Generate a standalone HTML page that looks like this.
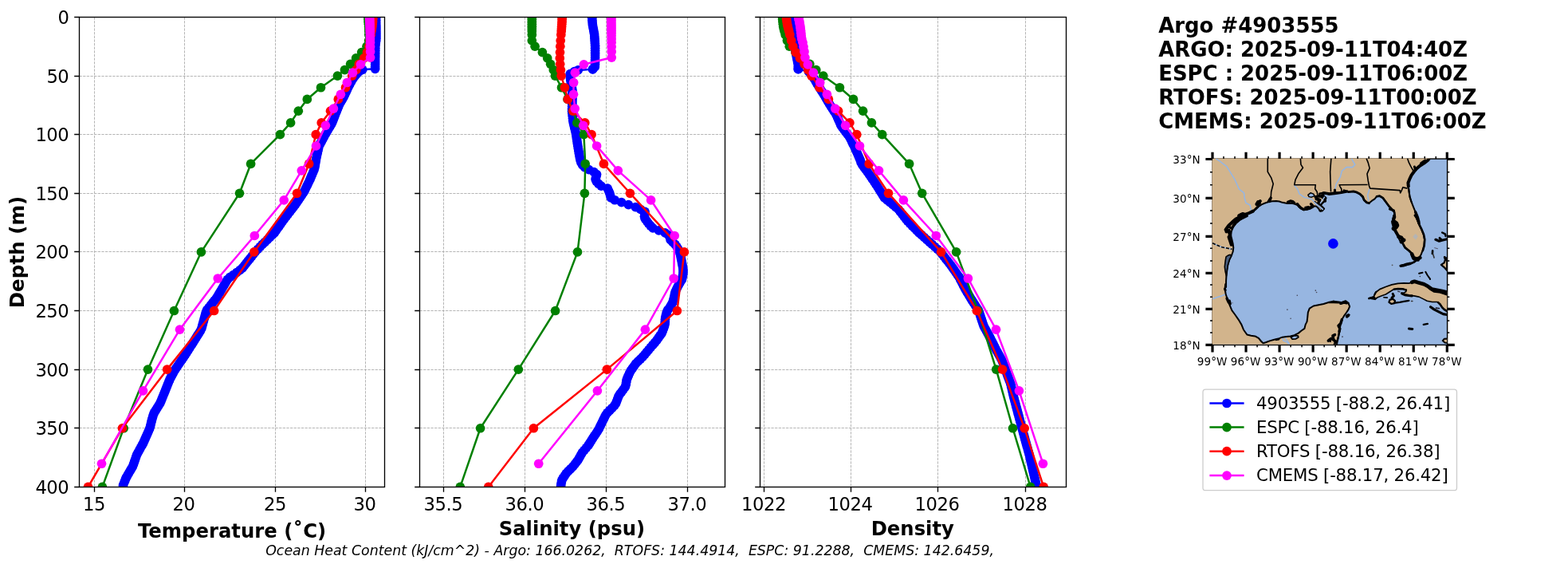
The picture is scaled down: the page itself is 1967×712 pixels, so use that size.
<!DOCTYPE html>
<html><head><meta charset="utf-8"><title>Argo #4903555</title>
<style>html,body{margin:0;padding:0;background:#fff;overflow:hidden}svg{display:block}</style>
</head><body>
<svg width="1967" height="712" viewBox="0 0 1967 712" font-family='"DejaVu Sans","Liberation Sans",sans-serif'>
<rect width="1967" height="712" fill="#fff"/>
<defs>
<clipPath id="c0"><rect x="99.5" y="21.5" width="383" height="589"/></clipPath>
<clipPath id="c1"><rect x="526.5" y="21.5" width="383" height="589"/></clipPath>
<clipPath id="c2"><rect x="953.5" y="21.5" width="384" height="589"/></clipPath>
<clipPath id="cm"><rect x="1520.4" y="198.6" width="294.9" height="233.25"/></clipPath>
</defs>
<g id="panel0">
<path d="M118.5 21.5 V610.5 M231.5 21.5 V610.5 M345.5 21.5 V610.5 M458.5 21.5 V610.5 M99.5 95.5 H482.5 M99.5 168.5 H482.5 M99.5 242.5 H482.5 M99.5 315.5 H482.5 M99.5 389.5 H482.5 M99.5 463.5 H482.5 M99.5 536.5 H482.5" stroke="#b2b2b2" stroke-width="0.95" stroke-dasharray="3.3 1.34" fill="none"/>
<g clip-path="url(#c0)">
<path d="M471.6 21.4 L471.9 35 L471.9 50 L470.8 57 L470.7 70 L470.6 86.3 L454.8 87.3 L449.8 90 L446.3 94 L443.2 98 L439.7 104 L436.2 110.8 L431.5 121 L425.5 131.3 L421.4 141.5 L416.5 154.3 L408 168.6 L400.2 183 L397 197.3 L394.5 211.6 L388.5 225.9 L381.5 240.3 L370.5 256.5 L354 278 L344 292.3 L329 306.6 L320.4 315.5 L303.3 337 L286 349.3 L272 373 L259 389.3 L256.4 398.7 L252.5 413 L241.8 430 L233.2 443.6 L219.6 463.4 L213.2 475 L207.4 489.5 L201 505.2 L193 518 L190.3 527 L188.1 536.5 L179.5 555.8 L171.6 570.1 L166.6 584.5 L158.2 598.8 L153.6 610.5" stroke="#0000ff" stroke-width="2.5" fill="none" stroke-linejoin="round"/>
<g fill="#0000ff"><circle cx="471.62" cy="22.2" r="5.85"/><circle cx="471.68" cy="25.13" r="5.85"/><circle cx="471.75" cy="28.06" r="5.85"/><circle cx="471.81" cy="30.99" r="5.85"/><circle cx="471.88" cy="33.92" r="5.85"/><circle cx="471.9" cy="36.85" r="5.85"/><circle cx="471.9" cy="39.78" r="5.85"/><circle cx="471.9" cy="42.71" r="5.85"/><circle cx="471.9" cy="45.64" r="5.85"/><circle cx="471.9" cy="48.57" r="5.85"/><circle cx="471.66" cy="51.5" r="5.85"/><circle cx="471.2" cy="54.43" r="5.85"/><circle cx="470.8" cy="57.36" r="5.85"/><circle cx="470.77" cy="60.29" r="5.85"/><circle cx="470.75" cy="63.22" r="5.85"/><circle cx="470.73" cy="66.15" r="5.85"/><circle cx="470.71" cy="69.08" r="5.85"/><circle cx="470.69" cy="72.01" r="5.85"/><circle cx="470.67" cy="74.94" r="5.85"/><circle cx="470.65" cy="77.88" r="5.85"/><circle cx="470.63" cy="80.81" r="5.85"/><circle cx="470.62" cy="83.74" r="5.85"/><circle cx="450.55" cy="89.6" r="5.85"/><circle cx="447.59" cy="92.53" r="5.85"/><circle cx="445.17" cy="95.46" r="5.85"/><circle cx="442.97" cy="98.39" r="5.85"/><circle cx="441.26" cy="101.32" r="5.85"/><circle cx="439.57" cy="104.25" r="5.85"/><circle cx="438.06" cy="107.18" r="5.85"/><circle cx="436.56" cy="110.11" r="5.85"/><circle cx="435.17" cy="113.04" r="5.85"/><circle cx="433.82" cy="115.97" r="5.85"/><circle cx="432.47" cy="118.9" r="5.85"/><circle cx="431.02" cy="121.83" r="5.85"/><circle cx="429.31" cy="124.76" r="5.85"/><circle cx="427.6" cy="127.69" r="5.85"/><circle cx="425.9" cy="130.62" r="5.85"/><circle cx="424.6" cy="133.55" r="5.85"/><circle cx="423.42" cy="136.48" r="5.85"/><circle cx="422.24" cy="139.41" r="5.85"/><circle cx="421.08" cy="142.34" r="5.85"/><circle cx="419.96" cy="145.27" r="5.85"/><circle cx="418.83" cy="148.2" r="5.85"/><circle cx="417.71" cy="151.13" r="5.85"/><circle cx="416.59" cy="154.06" r="5.85"/><circle cx="414.9" cy="156.99" r="5.85"/><circle cx="413.16" cy="159.92" r="5.85"/><circle cx="411.42" cy="162.85" r="5.85"/><circle cx="409.67" cy="165.78" r="5.85"/><circle cx="407.94" cy="168.71" r="5.85"/><circle cx="406.35" cy="171.64" r="5.85"/><circle cx="404.76" cy="174.57" r="5.85"/><circle cx="403.18" cy="177.5" r="5.85"/><circle cx="401.59" cy="180.43" r="5.85"/><circle cx="400.12" cy="183.37" r="5.85"/><circle cx="399.46" cy="186.3" r="5.85"/><circle cx="398.81" cy="189.23" r="5.85"/><circle cx="398.15" cy="192.16" r="5.85"/><circle cx="397.5" cy="195.09" r="5.85"/><circle cx="396.87" cy="198.02" r="5.85"/><circle cx="396.36" cy="200.95" r="5.85"/><circle cx="395.85" cy="203.88" r="5.85"/><circle cx="395.34" cy="206.81" r="5.85"/><circle cx="394.83" cy="209.74" r="5.85"/><circle cx="394.05" cy="212.67" r="5.85"/><circle cx="392.82" cy="215.6" r="5.85"/><circle cx="391.59" cy="218.53" r="5.85"/><circle cx="390.36" cy="221.46" r="5.85"/><circle cx="389.13" cy="224.39" r="5.85"/><circle cx="387.81" cy="227.32" r="5.85"/><circle cx="386.39" cy="230.25" r="5.85"/><circle cx="384.96" cy="233.18" r="5.85"/><circle cx="383.54" cy="236.11" r="5.85"/><circle cx="382.11" cy="239.04" r="5.85"/><circle cx="380.37" cy="241.97" r="5.85"/><circle cx="378.38" cy="244.9" r="5.85"/><circle cx="376.39" cy="247.83" r="5.85"/><circle cx="374.4" cy="250.76" r="5.85"/><circle cx="372.41" cy="253.69" r="5.85"/><circle cx="370.41" cy="256.62" r="5.85"/><circle cx="368.16" cy="259.55" r="5.85"/><circle cx="365.91" cy="262.48" r="5.85"/><circle cx="363.66" cy="265.41" r="5.85"/><circle cx="361.41" cy="268.34" r="5.85"/><circle cx="359.16" cy="271.27" r="5.85"/><circle cx="356.91" cy="274.2" r="5.85"/><circle cx="354.66" cy="277.13" r="5.85"/><circle cx="352.56" cy="280.06" r="5.85"/><circle cx="350.51" cy="282.99" r="5.85"/><circle cx="348.46" cy="285.92" r="5.85"/><circle cx="346.41" cy="288.86" r="5.85"/><circle cx="344.36" cy="291.79" r="5.85"/><circle cx="341.47" cy="294.72" r="5.85"/><circle cx="338.39" cy="297.65" r="5.85"/><circle cx="335.32" cy="300.58" r="5.85"/><circle cx="332.25" cy="303.51" r="5.85"/><circle cx="329.17" cy="306.44" r="5.85"/><circle cx="326.33" cy="309.37" r="5.85"/><circle cx="323.49" cy="312.3" r="5.85"/><circle cx="320.66" cy="315.23" r="5.85"/><circle cx="318.29" cy="318.16" r="5.85"/><circle cx="315.96" cy="321.09" r="5.85"/><circle cx="313.62" cy="324.02" r="5.85"/><circle cx="311.29" cy="326.95" r="5.85"/><circle cx="308.96" cy="329.88" r="5.85"/><circle cx="306.63" cy="332.81" r="5.85"/><circle cx="304.3" cy="335.74" r="5.85"/><circle cx="300.95" cy="338.67" r="5.85"/><circle cx="296.83" cy="341.6" r="5.85"/><circle cx="292.71" cy="344.53" r="5.85"/><circle cx="288.59" cy="347.46" r="5.85"/><circle cx="285.36" cy="350.39" r="5.85"/><circle cx="283.62" cy="353.32" r="5.85"/><circle cx="281.89" cy="356.25" r="5.85"/><circle cx="280.16" cy="359.18" r="5.85"/><circle cx="278.43" cy="362.11" r="5.85"/><circle cx="276.7" cy="365.04" r="5.85"/><circle cx="274.97" cy="367.97" r="5.85"/><circle cx="273.24" cy="370.9" r="5.85"/><circle cx="271.34" cy="373.83" r="5.85"/><circle cx="269" cy="376.76" r="5.85"/><circle cx="266.66" cy="379.69" r="5.85"/><circle cx="264.32" cy="382.62" r="5.85"/><circle cx="261.99" cy="385.55" r="5.85"/><circle cx="259.65" cy="388.48" r="5.85"/><circle cx="258.42" cy="391.41" r="5.85"/><circle cx="257.6" cy="394.34" r="5.85"/><circle cx="256.79" cy="397.28" r="5.85"/><circle cx="255.99" cy="400.21" r="5.85"/><circle cx="255.19" cy="403.14" r="5.85"/><circle cx="254.39" cy="406.07" r="5.85"/><circle cx="253.59" cy="409" r="5.85"/><circle cx="252.79" cy="411.93" r="5.85"/><circle cx="251.33" cy="414.86" r="5.85"/><circle cx="249.49" cy="417.79" r="5.85"/><circle cx="247.64" cy="420.72" r="5.85"/><circle cx="245.8" cy="423.65" r="5.85"/><circle cx="243.95" cy="426.58" r="5.85"/><circle cx="242.11" cy="429.51" r="5.85"/><circle cx="240.26" cy="432.44" r="5.85"/><circle cx="238.41" cy="435.37" r="5.85"/><circle cx="236.55" cy="438.3" r="5.85"/><circle cx="234.7" cy="441.23" r="5.85"/><circle cx="232.82" cy="444.16" r="5.85"/><circle cx="230.8" cy="447.09" r="5.85"/><circle cx="228.79" cy="450.02" r="5.85"/><circle cx="226.78" cy="452.95" r="5.85"/><circle cx="224.76" cy="455.88" r="5.85"/><circle cx="222.75" cy="458.81" r="5.85"/><circle cx="220.74" cy="461.74" r="5.85"/><circle cx="218.9" cy="464.67" r="5.85"/><circle cx="217.28" cy="467.6" r="5.85"/><circle cx="215.67" cy="470.53" r="5.85"/><circle cx="214.05" cy="473.46" r="5.85"/><circle cx="212.64" cy="476.39" r="5.85"/><circle cx="211.47" cy="479.32" r="5.85"/><circle cx="210.3" cy="482.25" r="5.85"/><circle cx="209.13" cy="485.18" r="5.85"/><circle cx="207.95" cy="488.11" r="5.85"/><circle cx="206.77" cy="491.04" r="5.85"/><circle cx="205.58" cy="493.97" r="5.85"/><circle cx="204.38" cy="496.9" r="5.85"/><circle cx="203.19" cy="499.83" r="5.85"/><circle cx="201.99" cy="502.77" r="5.85"/><circle cx="200.69" cy="505.7" r="5.85"/><circle cx="198.86" cy="508.63" r="5.85"/><circle cx="197.03" cy="511.56" r="5.85"/><circle cx="195.2" cy="514.49" r="5.85"/><circle cx="193.36" cy="517.42" r="5.85"/><circle cx="192.3" cy="520.35" r="5.85"/><circle cx="191.42" cy="523.28" r="5.85"/><circle cx="190.54" cy="526.21" r="5.85"/><circle cx="189.8" cy="529.14" r="5.85"/><circle cx="189.13" cy="532.07" r="5.85"/><circle cx="188.45" cy="535" r="5.85"/><circle cx="187.46" cy="537.93" r="5.85"/><circle cx="186.16" cy="540.86" r="5.85"/><circle cx="184.85" cy="543.79" r="5.85"/><circle cx="183.55" cy="546.72" r="5.85"/><circle cx="182.24" cy="549.65" r="5.85"/><circle cx="180.93" cy="552.58" r="5.85"/><circle cx="179.63" cy="555.51" r="5.85"/><circle cx="178.04" cy="558.44" r="5.85"/><circle cx="176.42" cy="561.37" r="5.85"/><circle cx="174.8" cy="564.3" r="5.85"/><circle cx="173.18" cy="567.23" r="5.85"/><circle cx="171.58" cy="570.16" r="5.85"/><circle cx="170.56" cy="573.09" r="5.85"/><circle cx="169.54" cy="576.02" r="5.85"/><circle cx="168.53" cy="578.95" r="5.85"/><circle cx="167.51" cy="581.88" r="5.85"/><circle cx="166.42" cy="584.81" r="5.85"/><circle cx="164.69" cy="587.74" r="5.85"/><circle cx="162.97" cy="590.67" r="5.85"/><circle cx="161.25" cy="593.6" r="5.85"/><circle cx="159.53" cy="596.53" r="5.85"/><circle cx="157.94" cy="599.46" r="5.85"/><circle cx="156.79" cy="602.39" r="5.85"/><circle cx="155.63" cy="605.32" r="5.85"/><circle cx="154.48" cy="608.26" r="5.85"/><circle cx="470.6" cy="86.3" r="5.85"/><circle cx="454.8" cy="87.3" r="5.85"/></g>
<g fill="#008000" stroke="none">
<path d="M462 21.4 L462 24.34 L462.1 27.29 L462.4 30.23 L462.7 33.18 L462.8 36.12 L462.8 39.07 L462.8 43.49 L462.6 50.85 L460 58.21 L453.6 65.57 L446.6 72.94 L439.6 80.3 L432.4 87.66 L423.4 95.03 L402.5 109.75 L385.3 124.47 L374.3 139.2 L364.6 153.93 L351.4 168.65 L314.6 205.46 L300.5 242.28 L252.4 315.9 L218.4 389.52 L185.5 463.15 L155.2 536.77 L128.4 610.4" stroke="#008000" stroke-width="2.5" fill="none" stroke-linejoin="round"/>
<circle cx="462" cy="21.4" r="5.85"/>
<circle cx="462" cy="24.34" r="5.85"/>
<circle cx="462.1" cy="27.29" r="5.85"/>
<circle cx="462.4" cy="30.23" r="5.85"/>
<circle cx="462.7" cy="33.18" r="5.85"/>
<circle cx="462.8" cy="36.12" r="5.85"/>
<circle cx="462.8" cy="39.07" r="5.85"/>
<circle cx="462.8" cy="43.49" r="5.85"/>
<circle cx="462.6" cy="50.85" r="5.85"/>
<circle cx="460" cy="58.21" r="5.85"/>
<circle cx="453.6" cy="65.57" r="5.85"/>
<circle cx="446.6" cy="72.94" r="5.85"/>
<circle cx="439.6" cy="80.3" r="5.85"/>
<circle cx="432.4" cy="87.66" r="5.85"/>
<circle cx="423.4" cy="95.03" r="5.85"/>
<circle cx="402.5" cy="109.75" r="5.85"/>
<circle cx="385.3" cy="124.47" r="5.85"/>
<circle cx="374.3" cy="139.2" r="5.85"/>
<circle cx="364.6" cy="153.93" r="5.85"/>
<circle cx="351.4" cy="168.65" r="5.85"/>
<circle cx="314.6" cy="205.46" r="5.85"/>
<circle cx="300.5" cy="242.28" r="5.85"/>
<circle cx="252.4" cy="315.9" r="5.85"/>
<circle cx="218.4" cy="389.52" r="5.85"/>
<circle cx="185.5" cy="463.15" r="5.85"/>
<circle cx="155.2" cy="536.77" r="5.85"/>
<circle cx="128.4" cy="610.4" r="5.85"/>
</g>
<g fill="#ff0000" stroke="none">
<path d="M467.8 21.4 L467.7 24.34 L467.5 27.29 L467.2 30.23 L466.9 33.18 L466.5 36.12 L466 39.07 L465.3 43.49 L464.3 50.85 L463 58.21 L460.5 65.57 L456.6 72.94 L450.3 80.3 L446.8 87.66 L441.7 95.03 L433.5 109.75 L424.3 124.47 L414.5 139.2 L403.2 153.93 L396.2 168.65 L387.6 205.46 L372.5 242.28 L318.7 315.9 L268.6 389.52 L209.6 463.15 L153.4 536.77 L110.5 610.4" stroke="#ff0000" stroke-width="2.5" fill="none" stroke-linejoin="round"/>
<circle cx="467.8" cy="21.4" r="5.85"/>
<circle cx="467.7" cy="24.34" r="5.85"/>
<circle cx="467.5" cy="27.29" r="5.85"/>
<circle cx="467.2" cy="30.23" r="5.85"/>
<circle cx="466.9" cy="33.18" r="5.85"/>
<circle cx="466.5" cy="36.12" r="5.85"/>
<circle cx="466" cy="39.07" r="5.85"/>
<circle cx="465.3" cy="43.49" r="5.85"/>
<circle cx="464.3" cy="50.85" r="5.85"/>
<circle cx="463" cy="58.21" r="5.85"/>
<circle cx="460.5" cy="65.57" r="5.85"/>
<circle cx="456.6" cy="72.94" r="5.85"/>
<circle cx="450.3" cy="80.3" r="5.85"/>
<circle cx="446.8" cy="87.66" r="5.85"/>
<circle cx="441.7" cy="95.03" r="5.85"/>
<circle cx="433.5" cy="109.75" r="5.85"/>
<circle cx="424.3" cy="124.47" r="5.85"/>
<circle cx="414.5" cy="139.2" r="5.85"/>
<circle cx="403.2" cy="153.93" r="5.85"/>
<circle cx="396.2" cy="168.65" r="5.85"/>
<circle cx="387.6" cy="205.46" r="5.85"/>
<circle cx="372.5" cy="242.28" r="5.85"/>
<circle cx="318.7" cy="315.9" r="5.85"/>
<circle cx="268.6" cy="389.52" r="5.85"/>
<circle cx="209.6" cy="463.15" r="5.85"/>
<circle cx="153.4" cy="536.77" r="5.85"/>
<circle cx="110.5" cy="610.4" r="5.85"/>
</g>
<g fill="#ff00ff" stroke="none">
<path d="M463.6 22.12 L463.67 23.67 L463.74 25.3 L463.81 27.02 L463.89 28.88 L463.96 30.88 L464.03 33.08 L464.1 35.49 L464.17 38.19 L464.24 41.23 L464.31 44.68 L464.39 48.64 L464.46 53.21 L464.53 58.52 L464.6 64.75 L464.6 72.1 L452.4 80.8 L442.5 91.15 L435.4 103.51 L427.4 118.31 L418.4 136.03 L408.4 157.34 L396.5 182.98 L378.3 213.81 L356.2 250.89 L319.3 295.48 L273.3 349 L225.5 413.14 L179.5 489.85 L127.5 581.26" stroke="#ff00ff" stroke-width="2.5" fill="none" stroke-linejoin="round"/>
<circle cx="463.6" cy="22.12" r="5.85"/>
<circle cx="463.67" cy="23.67" r="5.85"/>
<circle cx="463.74" cy="25.3" r="5.85"/>
<circle cx="463.81" cy="27.02" r="5.85"/>
<circle cx="463.89" cy="28.88" r="5.85"/>
<circle cx="463.96" cy="30.88" r="5.85"/>
<circle cx="464.03" cy="33.08" r="5.85"/>
<circle cx="464.1" cy="35.49" r="5.85"/>
<circle cx="464.17" cy="38.19" r="5.85"/>
<circle cx="464.24" cy="41.23" r="5.85"/>
<circle cx="464.31" cy="44.68" r="5.85"/>
<circle cx="464.39" cy="48.64" r="5.85"/>
<circle cx="464.46" cy="53.21" r="5.85"/>
<circle cx="464.53" cy="58.52" r="5.85"/>
<circle cx="464.6" cy="64.75" r="5.85"/>
<circle cx="464.6" cy="72.1" r="5.85"/>
<circle cx="452.4" cy="80.8" r="5.85"/>
<circle cx="442.5" cy="91.15" r="5.85"/>
<circle cx="435.4" cy="103.51" r="5.85"/>
<circle cx="427.4" cy="118.31" r="5.85"/>
<circle cx="418.4" cy="136.03" r="5.85"/>
<circle cx="408.4" cy="157.34" r="5.85"/>
<circle cx="396.5" cy="182.98" r="5.85"/>
<circle cx="378.3" cy="213.81" r="5.85"/>
<circle cx="356.2" cy="250.89" r="5.85"/>
<circle cx="319.3" cy="295.48" r="5.85"/>
<circle cx="273.3" cy="349" r="5.85"/>
<circle cx="225.5" cy="413.14" r="5.85"/>
<circle cx="179.5" cy="489.85" r="5.85"/>
<circle cx="127.5" cy="581.26" r="5.85"/>
</g>
</g>
<rect x="99.5" y="21.5" width="383" height="589" fill="none" stroke="#000" stroke-width="1.33"/>
<path d="M118.5 610.5 v6.3 M231.5 610.5 v6.3 M345.5 610.5 v6.3 M458.5 610.5 v6.3 M99.5 21.5 h-6.3 M99.5 95.5 h-6.3 M99.5 168.5 h-6.3 M99.5 242.5 h-6.3 M99.5 315.5 h-6.3 M99.5 389.5 h-6.3 M99.5 463.5 h-6.3 M99.5 536.5 h-6.3 M99.5 610.5 h-6.3" stroke="#000" stroke-width="1.33" fill="none"/>
<text x="104.1" y="640" style="font-size:22.7px;letter-spacing:-0.5px" xml:space="preserve">15</text>
<text x="216.6" y="640" style="font-size:22.7px;letter-spacing:-0.5px" xml:space="preserve">20</text>
<text x="331.1" y="640" style="font-size:22.7px;letter-spacing:-0.5px" xml:space="preserve">25</text>
<text x="443.6" y="640" style="font-size:22.7px;letter-spacing:-0.5px" xml:space="preserve">30</text>
<text x="72.4" y="30.2" style="font-size:22.7px;letter-spacing:-0.5px" xml:space="preserve">0</text>
<text x="58.4" y="104.2" style="font-size:22.7px;letter-spacing:-0.5px" xml:space="preserve">50</text>
<text x="44.4" y="177.2" style="font-size:22.7px;letter-spacing:-0.5px" xml:space="preserve">100</text>
<text x="44.4" y="251.2" style="font-size:22.7px;letter-spacing:-0.5px" xml:space="preserve">150</text>
<text x="44.4" y="324.2" style="font-size:22.7px;letter-spacing:-0.5px" xml:space="preserve">200</text>
<text x="44.4" y="398.2" style="font-size:22.7px;letter-spacing:-0.5px" xml:space="preserve">250</text>
<text x="44.4" y="472.2" style="font-size:22.7px;letter-spacing:-0.5px" xml:space="preserve">300</text>
<text x="44.4" y="545.2" style="font-size:22.7px;letter-spacing:-0.5px" xml:space="preserve">350</text>
<text x="44.4" y="619.2" style="font-size:22.7px;letter-spacing:-0.5px" xml:space="preserve">400</text>
</g>
<g id="panel1">
<path d="M556.5 21.5 V610.5 M658.5 21.5 V610.5 M760.5 21.5 V610.5 M862.5 21.5 V610.5 M526.5 95.5 H909.5 M526.5 168.5 H909.5 M526.5 242.5 H909.5 M526.5 315.5 H909.5 M526.5 389.5 H909.5 M526.5 463.5 H909.5 M526.5 536.5 H909.5" stroke="#b2b2b2" stroke-width="0.95" stroke-dasharray="3.3 1.34" fill="none"/>
<g clip-path="url(#c1)">
<path d="M742.7 21.4 L743.2 30 L745.6 43 L746.6 57.3 L746.6 70 L746.5 83.5 L743.5 86.8 L725.2 87.9 L715.2 91.5 L715.2 96 L716 102 L718 113 L718 124.3 L717.5 138.6 L719 153 L722.5 167.3 L724.6 181.6 L727 196 L728.5 203 L731.7 208.6 L740.3 213.6 L748.9 217.2 L746.7 225.8 L753.1 232.9 L761.7 235.1 L764.6 241.5 L766.8 249.4 L776.1 252.3 L783.2 255.1 L795.4 258.7 L801.8 261.6 L809 265.2 L808.3 273 L814.7 281.6 L820.5 287.4 L831.9 290.2 L840.5 296 L840.5 300 L847.7 307.2 L852.7 315.5 L854.8 325.8 L857 337.3 L857 343 L855.5 350.2 L850.5 358.7 L847 365.9 L845.5 373.1 L844.1 378.8 L839.8 386 L836.9 389.5 L834.5 398.6 L834.1 407.2 L830.5 417.2 L823.3 427.3 L814.7 437.3 L807.6 445.9 L797.5 455.9 L790.4 465.9 L786.1 476 L784.9 484.3 L776.3 495.8 L772 507.2 L760.6 518.7 L754.9 530.2 L750.8 538.7 L744 548.8 L737.7 558.8 L730.5 567.2 L724.8 577.2 L719.1 584.4 L710.5 593 L704.8 601.6 L703.3 610.5" stroke="#0000ff" stroke-width="2.5" fill="none" stroke-linejoin="round"/>
<g fill="#0000ff"><circle cx="742.75" cy="22.2" r="5.85"/><circle cx="742.92" cy="25.13" r="5.85"/><circle cx="743.09" cy="28.06" r="5.85"/><circle cx="743.38" cy="30.99" r="5.85"/><circle cx="743.92" cy="33.92" r="5.85"/><circle cx="744.46" cy="36.85" r="5.85"/><circle cx="745.01" cy="39.78" r="5.85"/><circle cx="745.55" cy="42.71" r="5.85"/><circle cx="745.78" cy="45.64" r="5.85"/><circle cx="745.99" cy="48.57" r="5.85"/><circle cx="746.19" cy="51.5" r="5.85"/><circle cx="746.4" cy="54.43" r="5.85"/><circle cx="746.6" cy="57.36" r="5.85"/><circle cx="746.6" cy="60.29" r="5.85"/><circle cx="746.6" cy="63.22" r="5.85"/><circle cx="746.6" cy="66.15" r="5.85"/><circle cx="746.6" cy="69.08" r="5.85"/><circle cx="746.59" cy="72.01" r="5.85"/><circle cx="746.56" cy="74.94" r="5.85"/><circle cx="746.54" cy="77.88" r="5.85"/><circle cx="746.52" cy="80.81" r="5.85"/><circle cx="746.29" cy="83.74" r="5.85"/><circle cx="743.62" cy="86.67" r="5.85"/><circle cx="720.49" cy="89.6" r="5.85"/><circle cx="715.2" cy="92.53" r="5.85"/><circle cx="715.2" cy="95.46" r="5.85"/><circle cx="715.52" cy="98.39" r="5.85"/><circle cx="715.91" cy="101.32" r="5.85"/><circle cx="716.41" cy="104.25" r="5.85"/><circle cx="716.94" cy="107.18" r="5.85"/><circle cx="717.47" cy="110.11" r="5.85"/><circle cx="718" cy="113.04" r="5.85"/><circle cx="718" cy="115.97" r="5.85"/><circle cx="718" cy="118.9" r="5.85"/><circle cx="718" cy="121.83" r="5.85"/><circle cx="717.98" cy="124.76" r="5.85"/><circle cx="717.88" cy="127.69" r="5.85"/><circle cx="717.78" cy="130.62" r="5.85"/><circle cx="717.68" cy="133.55" r="5.85"/><circle cx="717.57" cy="136.48" r="5.85"/><circle cx="717.58" cy="139.41" r="5.85"/><circle cx="717.89" cy="142.34" r="5.85"/><circle cx="718.19" cy="145.27" r="5.85"/><circle cx="718.5" cy="148.2" r="5.85"/><circle cx="718.81" cy="151.13" r="5.85"/><circle cx="719.26" cy="154.06" r="5.85"/><circle cx="719.98" cy="156.99" r="5.85"/><circle cx="720.69" cy="159.92" r="5.85"/><circle cx="721.41" cy="162.85" r="5.85"/><circle cx="722.13" cy="165.78" r="5.85"/><circle cx="722.71" cy="168.71" r="5.85"/><circle cx="723.14" cy="171.64" r="5.85"/><circle cx="723.57" cy="174.57" r="5.85"/><circle cx="724" cy="177.5" r="5.85"/><circle cx="724.43" cy="180.43" r="5.85"/><circle cx="724.89" cy="183.37" r="5.85"/><circle cx="725.38" cy="186.3" r="5.85"/><circle cx="725.87" cy="189.23" r="5.85"/><circle cx="726.36" cy="192.16" r="5.85"/><circle cx="726.85" cy="195.09" r="5.85"/><circle cx="727.43" cy="198.02" r="5.85"/><circle cx="728.06" cy="200.95" r="5.85"/><circle cx="729" cy="203.88" r="5.85"/><circle cx="730.68" cy="206.81" r="5.85"/><circle cx="733.66" cy="209.74" r="5.85"/><circle cx="738.7" cy="212.67" r="5.85"/><circle cx="745.07" cy="215.6" r="5.85"/><circle cx="748.56" cy="218.53" r="5.85"/><circle cx="747.81" cy="221.46" r="5.85"/><circle cx="747.06" cy="224.39" r="5.85"/><circle cx="748.07" cy="227.32" r="5.85"/><circle cx="750.71" cy="230.25" r="5.85"/><circle cx="754.19" cy="233.18" r="5.85"/><circle cx="762.16" cy="236.11" r="5.85"/><circle cx="763.49" cy="239.04" r="5.85"/><circle cx="764.73" cy="241.97" r="5.85"/><circle cx="765.55" cy="244.9" r="5.85"/><circle cx="766.36" cy="247.83" r="5.85"/><circle cx="771.17" cy="250.76" r="5.85"/><circle cx="779.63" cy="253.69" r="5.85"/><circle cx="788.36" cy="256.62" r="5.85"/><circle cx="797.28" cy="259.55" r="5.85"/><circle cx="803.57" cy="262.48" r="5.85"/><circle cx="808.98" cy="265.41" r="5.85"/><circle cx="808.72" cy="268.34" r="5.85"/><circle cx="808.45" cy="271.27" r="5.85"/><circle cx="809.2" cy="274.2" r="5.85"/><circle cx="811.38" cy="277.13" r="5.85"/><circle cx="813.56" cy="280.06" r="5.85"/><circle cx="816.09" cy="282.99" r="5.85"/><circle cx="819.02" cy="285.92" r="5.85"/><circle cx="826.42" cy="288.86" r="5.85"/><circle cx="834.25" cy="291.79" r="5.85"/><circle cx="838.6" cy="294.72" r="5.85"/><circle cx="840.5" cy="297.65" r="5.85"/><circle cx="841.08" cy="300.58" r="5.85"/><circle cx="844.01" cy="303.51" r="5.85"/><circle cx="846.94" cy="306.44" r="5.85"/><circle cx="849.01" cy="309.37" r="5.85"/><circle cx="850.77" cy="312.3" r="5.85"/><circle cx="852.54" cy="315.23" r="5.85"/><circle cx="853.24" cy="318.16" r="5.85"/><circle cx="853.84" cy="321.09" r="5.85"/><circle cx="854.44" cy="324.02" r="5.85"/><circle cx="855.02" cy="326.95" r="5.85"/><circle cx="855.58" cy="329.88" r="5.85"/><circle cx="856.14" cy="332.81" r="5.85"/><circle cx="856.7" cy="335.74" r="5.85"/><circle cx="857" cy="338.67" r="5.85"/><circle cx="857" cy="341.6" r="5.85"/><circle cx="856.68" cy="344.53" r="5.85"/><circle cx="856.07" cy="347.46" r="5.85"/><circle cx="855.39" cy="350.39" r="5.85"/><circle cx="853.66" cy="353.32" r="5.85"/><circle cx="851.94" cy="356.25" r="5.85"/><circle cx="850.27" cy="359.18" r="5.85"/><circle cx="848.84" cy="362.11" r="5.85"/><circle cx="847.42" cy="365.04" r="5.85"/><circle cx="846.57" cy="367.97" r="5.85"/><circle cx="845.96" cy="370.9" r="5.85"/><circle cx="845.32" cy="373.83" r="5.85"/><circle cx="844.6" cy="376.76" r="5.85"/><circle cx="843.57" cy="379.69" r="5.85"/><circle cx="841.82" cy="382.62" r="5.85"/><circle cx="840.07" cy="385.55" r="5.85"/><circle cx="837.74" cy="388.48" r="5.85"/><circle cx="836.4" cy="391.41" r="5.85"/><circle cx="835.62" cy="394.34" r="5.85"/><circle cx="834.85" cy="397.28" r="5.85"/><circle cx="834.43" cy="400.21" r="5.85"/><circle cx="834.29" cy="403.14" r="5.85"/><circle cx="834.15" cy="406.07" r="5.85"/><circle cx="833.45" cy="409" r="5.85"/><circle cx="832.4" cy="411.93" r="5.85"/><circle cx="831.34" cy="414.86" r="5.85"/><circle cx="830.08" cy="417.79" r="5.85"/><circle cx="827.99" cy="420.72" r="5.85"/><circle cx="825.9" cy="423.65" r="5.85"/><circle cx="823.81" cy="426.58" r="5.85"/><circle cx="821.4" cy="429.51" r="5.85"/><circle cx="818.88" cy="432.44" r="5.85"/><circle cx="816.36" cy="435.37" r="5.85"/><circle cx="813.88" cy="438.3" r="5.85"/><circle cx="811.46" cy="441.23" r="5.85"/><circle cx="809.04" cy="444.16" r="5.85"/><circle cx="806.4" cy="447.09" r="5.85"/><circle cx="803.44" cy="450.02" r="5.85"/><circle cx="800.48" cy="452.95" r="5.85"/><circle cx="797.52" cy="455.88" r="5.85"/><circle cx="795.43" cy="458.81" r="5.85"/><circle cx="793.35" cy="461.74" r="5.85"/><circle cx="791.27" cy="464.67" r="5.85"/><circle cx="789.68" cy="467.6" r="5.85"/><circle cx="788.43" cy="470.53" r="5.85"/><circle cx="787.18" cy="473.46" r="5.85"/><circle cx="786.04" cy="476.39" r="5.85"/><circle cx="785.62" cy="479.32" r="5.85"/><circle cx="785.2" cy="482.25" r="5.85"/><circle cx="784.24" cy="485.18" r="5.85"/><circle cx="782.05" cy="488.11" r="5.85"/><circle cx="779.86" cy="491.04" r="5.85"/><circle cx="777.67" cy="493.97" r="5.85"/><circle cx="775.88" cy="496.9" r="5.85"/><circle cx="774.78" cy="499.83" r="5.85"/><circle cx="773.67" cy="502.77" r="5.85"/><circle cx="772.57" cy="505.7" r="5.85"/><circle cx="770.59" cy="508.63" r="5.85"/><circle cx="767.68" cy="511.56" r="5.85"/><circle cx="764.78" cy="514.49" r="5.85"/><circle cx="761.87" cy="517.42" r="5.85"/><circle cx="759.78" cy="520.35" r="5.85"/><circle cx="758.33" cy="523.28" r="5.85"/><circle cx="756.88" cy="526.21" r="5.85"/><circle cx="755.43" cy="529.14" r="5.85"/><circle cx="754" cy="532.07" r="5.85"/><circle cx="752.59" cy="535" r="5.85"/><circle cx="751.17" cy="537.93" r="5.85"/><circle cx="749.35" cy="540.86" r="5.85"/><circle cx="747.37" cy="543.79" r="5.85"/><circle cx="745.4" cy="546.72" r="5.85"/><circle cx="743.46" cy="549.65" r="5.85"/><circle cx="741.62" cy="552.58" r="5.85"/><circle cx="739.77" cy="555.51" r="5.85"/><circle cx="737.93" cy="558.44" r="5.85"/><circle cx="735.5" cy="561.37" r="5.85"/><circle cx="732.98" cy="564.3" r="5.85"/><circle cx="730.48" cy="567.23" r="5.85"/><circle cx="728.81" cy="570.16" r="5.85"/><circle cx="727.14" cy="573.09" r="5.85"/><circle cx="725.47" cy="576.02" r="5.85"/><circle cx="723.41" cy="578.95" r="5.85"/><circle cx="721.09" cy="581.88" r="5.85"/><circle cx="718.69" cy="584.81" r="5.85"/><circle cx="715.76" cy="587.74" r="5.85"/><circle cx="712.83" cy="590.67" r="5.85"/><circle cx="710.1" cy="593.6" r="5.85"/><circle cx="708.16" cy="596.53" r="5.85"/><circle cx="706.22" cy="599.46" r="5.85"/><circle cx="704.67" cy="602.39" r="5.85"/><circle cx="704.17" cy="605.32" r="5.85"/><circle cx="703.68" cy="608.26" r="5.85"/><circle cx="743.5" cy="86.8" r="5.85"/><circle cx="725.2" cy="87.9" r="5.85"/></g>
<g fill="#008000" stroke="none">
<path d="M667.3 21.4 L667.3 24.34 L667.3 27.29 L667.3 30.23 L667.3 33.18 L667.3 36.12 L667.3 39.07 L667.3 43.49 L667.3 50.85 L671.1 58.21 L680.4 65.57 L686.7 72.94 L690.6 80.3 L694.3 87.66 L696.4 95.03 L704.5 109.75 L712 124.47 L718.8 139.2 L723.8 153.93 L732.4 168.65 L734.2 205.46 L733.4 242.28 L724.5 315.9 L696.6 389.52 L650.3 463.15 L602.6 536.77 L577.3 610.4" stroke="#008000" stroke-width="2.5" fill="none" stroke-linejoin="round"/>
<circle cx="667.3" cy="21.4" r="5.85"/>
<circle cx="667.3" cy="24.34" r="5.85"/>
<circle cx="667.3" cy="27.29" r="5.85"/>
<circle cx="667.3" cy="30.23" r="5.85"/>
<circle cx="667.3" cy="33.18" r="5.85"/>
<circle cx="667.3" cy="36.12" r="5.85"/>
<circle cx="667.3" cy="39.07" r="5.85"/>
<circle cx="667.3" cy="43.49" r="5.85"/>
<circle cx="667.3" cy="50.85" r="5.85"/>
<circle cx="671.1" cy="58.21" r="5.85"/>
<circle cx="680.4" cy="65.57" r="5.85"/>
<circle cx="686.7" cy="72.94" r="5.85"/>
<circle cx="690.6" cy="80.3" r="5.85"/>
<circle cx="694.3" cy="87.66" r="5.85"/>
<circle cx="696.4" cy="95.03" r="5.85"/>
<circle cx="704.5" cy="109.75" r="5.85"/>
<circle cx="712" cy="124.47" r="5.85"/>
<circle cx="718.8" cy="139.2" r="5.85"/>
<circle cx="723.8" cy="153.93" r="5.85"/>
<circle cx="732.4" cy="168.65" r="5.85"/>
<circle cx="734.2" cy="205.46" r="5.85"/>
<circle cx="733.4" cy="242.28" r="5.85"/>
<circle cx="724.5" cy="315.9" r="5.85"/>
<circle cx="696.6" cy="389.52" r="5.85"/>
<circle cx="650.3" cy="463.15" r="5.85"/>
<circle cx="602.6" cy="536.77" r="5.85"/>
<circle cx="577.3" cy="610.4" r="5.85"/>
</g>
<g fill="#ff0000" stroke="none">
<path d="M705.2 21.4 L705.1 24.34 L705 27.29 L704.8 30.23 L704.6 33.18 L704.4 36.12 L704.2 39.07 L703.8 43.49 L703.2 50.85 L702.8 58.21 L702.5 65.57 L702.3 72.94 L702.7 80.3 L703.4 87.66 L704.1 95.03 L708.4 109.75 L712.3 124.47 L718.8 139.2 L733.8 153.93 L742.1 168.65 L757.4 205.46 L790.4 242.28 L858.4 315.9 L849.4 389.52 L761.3 463.15 L669.4 536.77 L612.7 610.4" stroke="#ff0000" stroke-width="2.5" fill="none" stroke-linejoin="round"/>
<circle cx="705.2" cy="21.4" r="5.85"/>
<circle cx="705.1" cy="24.34" r="5.85"/>
<circle cx="705" cy="27.29" r="5.85"/>
<circle cx="704.8" cy="30.23" r="5.85"/>
<circle cx="704.6" cy="33.18" r="5.85"/>
<circle cx="704.4" cy="36.12" r="5.85"/>
<circle cx="704.2" cy="39.07" r="5.85"/>
<circle cx="703.8" cy="43.49" r="5.85"/>
<circle cx="703.2" cy="50.85" r="5.85"/>
<circle cx="702.8" cy="58.21" r="5.85"/>
<circle cx="702.5" cy="65.57" r="5.85"/>
<circle cx="702.3" cy="72.94" r="5.85"/>
<circle cx="702.7" cy="80.3" r="5.85"/>
<circle cx="703.4" cy="87.66" r="5.85"/>
<circle cx="704.1" cy="95.03" r="5.85"/>
<circle cx="708.4" cy="109.75" r="5.85"/>
<circle cx="712.3" cy="124.47" r="5.85"/>
<circle cx="718.8" cy="139.2" r="5.85"/>
<circle cx="733.8" cy="153.93" r="5.85"/>
<circle cx="742.1" cy="168.65" r="5.85"/>
<circle cx="757.4" cy="205.46" r="5.85"/>
<circle cx="790.4" cy="242.28" r="5.85"/>
<circle cx="858.4" cy="315.9" r="5.85"/>
<circle cx="849.4" cy="389.52" r="5.85"/>
<circle cx="761.3" cy="463.15" r="5.85"/>
<circle cx="669.4" cy="536.77" r="5.85"/>
<circle cx="612.7" cy="610.4" r="5.85"/>
</g>
<g fill="#ff00ff" stroke="none">
<path d="M766.7 22.12 L766.73 23.67 L766.77 25.3 L766.8 27.02 L766.83 28.88 L766.87 30.88 L766.9 33.08 L766.93 35.49 L766.97 38.19 L767 41.23 L767.03 44.68 L767.07 48.64 L767.1 53.21 L767.13 58.52 L767.17 64.75 L767.2 72.1 L732.4 80.8 L721.4 91.15 L719.6 103.51 L719.5 118.31 L721.2 136.03 L731.7 157.34 L748.6 182.98 L775.3 213.81 L816.6 250.89 L846.2 295.48 L845.2 349 L809.4 413.14 L749.4 489.85 L675.7 581.26" stroke="#ff00ff" stroke-width="2.5" fill="none" stroke-linejoin="round"/>
<circle cx="766.7" cy="22.12" r="5.85"/>
<circle cx="766.73" cy="23.67" r="5.85"/>
<circle cx="766.77" cy="25.3" r="5.85"/>
<circle cx="766.8" cy="27.02" r="5.85"/>
<circle cx="766.83" cy="28.88" r="5.85"/>
<circle cx="766.87" cy="30.88" r="5.85"/>
<circle cx="766.9" cy="33.08" r="5.85"/>
<circle cx="766.93" cy="35.49" r="5.85"/>
<circle cx="766.97" cy="38.19" r="5.85"/>
<circle cx="767" cy="41.23" r="5.85"/>
<circle cx="767.03" cy="44.68" r="5.85"/>
<circle cx="767.07" cy="48.64" r="5.85"/>
<circle cx="767.1" cy="53.21" r="5.85"/>
<circle cx="767.13" cy="58.52" r="5.85"/>
<circle cx="767.17" cy="64.75" r="5.85"/>
<circle cx="767.2" cy="72.1" r="5.85"/>
<circle cx="732.4" cy="80.8" r="5.85"/>
<circle cx="721.4" cy="91.15" r="5.85"/>
<circle cx="719.6" cy="103.51" r="5.85"/>
<circle cx="719.5" cy="118.31" r="5.85"/>
<circle cx="721.2" cy="136.03" r="5.85"/>
<circle cx="731.7" cy="157.34" r="5.85"/>
<circle cx="748.6" cy="182.98" r="5.85"/>
<circle cx="775.3" cy="213.81" r="5.85"/>
<circle cx="816.6" cy="250.89" r="5.85"/>
<circle cx="846.2" cy="295.48" r="5.85"/>
<circle cx="845.2" cy="349" r="5.85"/>
<circle cx="809.4" cy="413.14" r="5.85"/>
<circle cx="749.4" cy="489.85" r="5.85"/>
<circle cx="675.7" cy="581.26" r="5.85"/>
</g>
</g>
<rect x="526.5" y="21.5" width="383" height="589" fill="none" stroke="#000" stroke-width="1.33"/>
<path d="M556.5 610.5 v6.3 M658.5 610.5 v6.3 M760.5 610.5 v6.3 M862.5 610.5 v6.3 M526.5 21.5 h-6.3 M526.5 95.5 h-6.3 M526.5 168.5 h-6.3 M526.5 242.5 h-6.3 M526.5 315.5 h-6.3 M526.5 389.5 h-6.3 M526.5 463.5 h-6.3 M526.5 536.5 h-6.3 M526.5 610.5 h-6.3" stroke="#000" stroke-width="1.33" fill="none"/>
<text x="531.6" y="640" style="font-size:22.7px;letter-spacing:-0.5px" xml:space="preserve">35.5</text>
<text x="633.6" y="640" style="font-size:22.7px;letter-spacing:-0.5px" xml:space="preserve">36.0</text>
<text x="735.6" y="640" style="font-size:22.7px;letter-spacing:-0.5px" xml:space="preserve">36.5</text>
<text x="837.6" y="640" style="font-size:22.7px;letter-spacing:-0.5px" xml:space="preserve">37.0</text>
</g>
<g id="panel2">
<path d="M958.5 21.5 V610.5 M1067.5 21.5 V610.5 M1176.5 21.5 V610.5 M1286.5 21.5 V610.5 M953.5 95.5 H1337.5 M953.5 168.5 H1337.5 M953.5 242.5 H1337.5 M953.5 315.5 H1337.5 M953.5 389.5 H1337.5 M953.5 463.5 H1337.5 M953.5 536.5 H1337.5" stroke="#b2b2b2" stroke-width="0.95" stroke-dasharray="3.3 1.34" fill="none"/>
<g clip-path="url(#c2)">
<path d="M991 21.4 L993.5 35 L996 48 L997.5 60 L999.2 70.8 L1001.3 81.2 L1001.2 86.6 L1014.5 89.5 L1017.5 93 L1021 98 L1025 105.1 L1034.5 120.1 L1040.3 130.1 L1049 143.6 L1055.3 158 L1066.2 172.3 L1073 186.6 L1079.3 200.9 L1080.5 205 L1091 219.3 L1100.5 233.6 L1109.5 248 L1127 262.3 L1138 276.6 L1152 291 L1167 304.3 L1179.5 315.5 L1193.2 333 L1203.2 347.3 L1210.4 361.6 L1219 376 L1227.6 389.1 L1234 408.6 L1241.9 423 L1249 437.3 L1256.9 451.6 L1261.2 463.4 L1267.6 480.3 L1271.9 498.6 L1281.9 536.3 L1291.3 570.3 L1300.6 610.5" stroke="#0000ff" stroke-width="2.5" fill="none" stroke-linejoin="round"/>
<g fill="#0000ff"><circle cx="991.15" cy="22.2" r="5.85"/><circle cx="991.69" cy="25.13" r="5.85"/><circle cx="992.22" cy="28.06" r="5.85"/><circle cx="992.76" cy="30.99" r="5.85"/><circle cx="993.3" cy="33.92" r="5.85"/><circle cx="993.86" cy="36.85" r="5.85"/><circle cx="994.42" cy="39.78" r="5.85"/><circle cx="994.98" cy="42.71" r="5.85"/><circle cx="995.55" cy="45.64" r="5.85"/><circle cx="996.07" cy="48.57" r="5.85"/><circle cx="996.44" cy="51.5" r="5.85"/><circle cx="996.8" cy="54.43" r="5.85"/><circle cx="997.17" cy="57.36" r="5.85"/><circle cx="997.55" cy="60.29" r="5.85"/><circle cx="998.01" cy="63.22" r="5.85"/><circle cx="998.47" cy="66.15" r="5.85"/><circle cx="998.93" cy="69.08" r="5.85"/><circle cx="999.45" cy="72.01" r="5.85"/><circle cx="1000.04" cy="74.94" r="5.85"/><circle cx="1000.63" cy="77.88" r="5.85"/><circle cx="1001.22" cy="80.81" r="5.85"/><circle cx="1001.25" cy="83.74" r="5.85"/><circle cx="1001.5" cy="86.67" r="5.85"/><circle cx="1014.58" cy="89.6" r="5.85"/><circle cx="1017.09" cy="92.53" r="5.85"/><circle cx="1019.22" cy="95.46" r="5.85"/><circle cx="1021.22" cy="98.39" r="5.85"/><circle cx="1022.87" cy="101.32" r="5.85"/><circle cx="1024.52" cy="104.25" r="5.85"/><circle cx="1026.32" cy="107.18" r="5.85"/><circle cx="1028.17" cy="110.11" r="5.85"/><circle cx="1030.03" cy="113.04" r="5.85"/><circle cx="1031.88" cy="115.97" r="5.85"/><circle cx="1033.74" cy="118.9" r="5.85"/><circle cx="1035.5" cy="121.83" r="5.85"/><circle cx="1037.2" cy="124.76" r="5.85"/><circle cx="1038.9" cy="127.69" r="5.85"/><circle cx="1040.64" cy="130.62" r="5.85"/><circle cx="1042.52" cy="133.55" r="5.85"/><circle cx="1044.41" cy="136.48" r="5.85"/><circle cx="1046.3" cy="139.41" r="5.85"/><circle cx="1048.19" cy="142.34" r="5.85"/><circle cx="1049.73" cy="145.27" r="5.85"/><circle cx="1051.01" cy="148.2" r="5.85"/><circle cx="1052.3" cy="151.13" r="5.85"/><circle cx="1053.58" cy="154.06" r="5.85"/><circle cx="1054.86" cy="156.99" r="5.85"/><circle cx="1056.77" cy="159.92" r="5.85"/><circle cx="1059" cy="162.85" r="5.85"/><circle cx="1061.23" cy="165.78" r="5.85"/><circle cx="1063.47" cy="168.71" r="5.85"/><circle cx="1065.7" cy="171.64" r="5.85"/><circle cx="1067.28" cy="174.57" r="5.85"/><circle cx="1068.67" cy="177.5" r="5.85"/><circle cx="1070.07" cy="180.43" r="5.85"/><circle cx="1071.46" cy="183.37" r="5.85"/><circle cx="1072.86" cy="186.3" r="5.85"/><circle cx="1074.16" cy="189.23" r="5.85"/><circle cx="1075.45" cy="192.16" r="5.85"/><circle cx="1076.74" cy="195.09" r="5.85"/><circle cx="1078.03" cy="198.02" r="5.85"/><circle cx="1079.31" cy="200.95" r="5.85"/><circle cx="1080.17" cy="203.88" r="5.85"/><circle cx="1081.83" cy="206.81" r="5.85"/><circle cx="1083.98" cy="209.74" r="5.85"/><circle cx="1086.13" cy="212.67" r="5.85"/><circle cx="1088.28" cy="215.6" r="5.85"/><circle cx="1090.43" cy="218.53" r="5.85"/><circle cx="1092.43" cy="221.46" r="5.85"/><circle cx="1094.38" cy="224.39" r="5.85"/><circle cx="1096.33" cy="227.32" r="5.85"/><circle cx="1098.27" cy="230.25" r="5.85"/><circle cx="1100.22" cy="233.18" r="5.85"/><circle cx="1102.07" cy="236.11" r="5.85"/><circle cx="1103.9" cy="239.04" r="5.85"/><circle cx="1105.73" cy="241.97" r="5.85"/><circle cx="1107.56" cy="244.9" r="5.85"/><circle cx="1109.39" cy="247.83" r="5.85"/><circle cx="1112.88" cy="250.76" r="5.85"/><circle cx="1116.47" cy="253.69" r="5.85"/><circle cx="1120.05" cy="256.62" r="5.85"/><circle cx="1123.64" cy="259.55" r="5.85"/><circle cx="1127.14" cy="262.48" r="5.85"/><circle cx="1129.39" cy="265.41" r="5.85"/><circle cx="1131.65" cy="268.34" r="5.85"/><circle cx="1133.9" cy="271.27" r="5.85"/><circle cx="1136.16" cy="274.2" r="5.85"/><circle cx="1138.52" cy="277.13" r="5.85"/><circle cx="1141.37" cy="280.06" r="5.85"/><circle cx="1144.22" cy="282.99" r="5.85"/><circle cx="1147.07" cy="285.92" r="5.85"/><circle cx="1149.91" cy="288.86" r="5.85"/><circle cx="1152.89" cy="291.79" r="5.85"/><circle cx="1156.19" cy="294.72" r="5.85"/><circle cx="1159.5" cy="297.65" r="5.85"/><circle cx="1162.8" cy="300.58" r="5.85"/><circle cx="1166.1" cy="303.51" r="5.85"/><circle cx="1169.38" cy="306.44" r="5.85"/><circle cx="1172.66" cy="309.37" r="5.85"/><circle cx="1175.93" cy="312.3" r="5.85"/><circle cx="1179.2" cy="315.23" r="5.85"/><circle cx="1181.58" cy="318.16" r="5.85"/><circle cx="1183.87" cy="321.09" r="5.85"/><circle cx="1186.17" cy="324.02" r="5.85"/><circle cx="1188.46" cy="326.95" r="5.85"/><circle cx="1190.76" cy="329.88" r="5.85"/><circle cx="1193.05" cy="332.81" r="5.85"/><circle cx="1195.12" cy="335.74" r="5.85"/><circle cx="1197.16" cy="338.67" r="5.85"/><circle cx="1199.21" cy="341.6" r="5.85"/><circle cx="1201.26" cy="344.53" r="5.85"/><circle cx="1203.28" cy="347.46" r="5.85"/><circle cx="1204.76" cy="350.39" r="5.85"/><circle cx="1206.23" cy="353.32" r="5.85"/><circle cx="1207.71" cy="356.25" r="5.85"/><circle cx="1209.18" cy="359.18" r="5.85"/><circle cx="1210.71" cy="362.11" r="5.85"/><circle cx="1212.46" cy="365.04" r="5.85"/><circle cx="1214.21" cy="367.97" r="5.85"/><circle cx="1215.96" cy="370.9" r="5.85"/><circle cx="1217.71" cy="373.83" r="5.85"/><circle cx="1219.5" cy="376.76" r="5.85"/><circle cx="1221.42" cy="379.69" r="5.85"/><circle cx="1223.35" cy="382.62" r="5.85"/><circle cx="1225.27" cy="385.55" r="5.85"/><circle cx="1227.2" cy="388.48" r="5.85"/><circle cx="1228.36" cy="391.41" r="5.85"/><circle cx="1229.32" cy="394.34" r="5.85"/><circle cx="1230.28" cy="397.28" r="5.85"/><circle cx="1231.24" cy="400.21" r="5.85"/><circle cx="1232.21" cy="403.14" r="5.85"/><circle cx="1233.17" cy="406.07" r="5.85"/><circle cx="1234.22" cy="409" r="5.85"/><circle cx="1235.82" cy="411.93" r="5.85"/><circle cx="1237.43" cy="414.86" r="5.85"/><circle cx="1239.04" cy="417.79" r="5.85"/><circle cx="1240.65" cy="420.72" r="5.85"/><circle cx="1242.22" cy="423.65" r="5.85"/><circle cx="1243.68" cy="426.58" r="5.85"/><circle cx="1245.13" cy="429.51" r="5.85"/><circle cx="1246.59" cy="432.44" r="5.85"/><circle cx="1248.04" cy="435.37" r="5.85"/><circle cx="1249.55" cy="438.3" r="5.85"/><circle cx="1251.17" cy="441.23" r="5.85"/><circle cx="1252.79" cy="444.16" r="5.85"/><circle cx="1254.41" cy="447.09" r="5.85"/><circle cx="1256.03" cy="450.02" r="5.85"/><circle cx="1257.39" cy="452.95" r="5.85"/><circle cx="1258.46" cy="455.88" r="5.85"/><circle cx="1259.53" cy="458.81" r="5.85"/><circle cx="1260.6" cy="461.74" r="5.85"/><circle cx="1261.68" cy="464.67" r="5.85"/><circle cx="1262.79" cy="467.6" r="5.85"/><circle cx="1263.9" cy="470.53" r="5.85"/><circle cx="1265.01" cy="473.46" r="5.85"/><circle cx="1266.12" cy="476.39" r="5.85"/><circle cx="1267.23" cy="479.32" r="5.85"/><circle cx="1268.06" cy="482.25" r="5.85"/><circle cx="1268.75" cy="485.18" r="5.85"/><circle cx="1269.44" cy="488.11" r="5.85"/><circle cx="1270.12" cy="491.04" r="5.85"/><circle cx="1270.81" cy="493.97" r="5.85"/><circle cx="1271.5" cy="496.9" r="5.85"/><circle cx="1272.23" cy="499.83" r="5.85"/><circle cx="1273" cy="502.77" r="5.85"/><circle cx="1273.78" cy="505.7" r="5.85"/><circle cx="1274.56" cy="508.63" r="5.85"/><circle cx="1275.34" cy="511.56" r="5.85"/><circle cx="1276.11" cy="514.49" r="5.85"/><circle cx="1276.89" cy="517.42" r="5.85"/><circle cx="1277.67" cy="520.35" r="5.85"/><circle cx="1278.45" cy="523.28" r="5.85"/><circle cx="1279.22" cy="526.21" r="5.85"/><circle cx="1280" cy="529.14" r="5.85"/><circle cx="1280.78" cy="532.07" r="5.85"/><circle cx="1281.55" cy="535" r="5.85"/><circle cx="1282.35" cy="537.93" r="5.85"/><circle cx="1283.16" cy="540.86" r="5.85"/><circle cx="1283.97" cy="543.79" r="5.85"/><circle cx="1284.78" cy="546.72" r="5.85"/><circle cx="1285.59" cy="549.65" r="5.85"/><circle cx="1286.4" cy="552.58" r="5.85"/><circle cx="1287.21" cy="555.51" r="5.85"/><circle cx="1288.02" cy="558.44" r="5.85"/><circle cx="1288.83" cy="561.37" r="5.85"/><circle cx="1289.64" cy="564.3" r="5.85"/><circle cx="1290.45" cy="567.23" r="5.85"/><circle cx="1291.26" cy="570.16" r="5.85"/><circle cx="1291.95" cy="573.09" r="5.85"/><circle cx="1292.62" cy="576.02" r="5.85"/><circle cx="1293.3" cy="578.95" r="5.85"/><circle cx="1293.98" cy="581.88" r="5.85"/><circle cx="1294.66" cy="584.81" r="5.85"/><circle cx="1295.34" cy="587.74" r="5.85"/><circle cx="1296.01" cy="590.67" r="5.85"/><circle cx="1296.69" cy="593.6" r="5.85"/><circle cx="1297.37" cy="596.53" r="5.85"/><circle cx="1298.05" cy="599.46" r="5.85"/><circle cx="1298.72" cy="602.39" r="5.85"/><circle cx="1299.4" cy="605.32" r="5.85"/><circle cx="1300.08" cy="608.26" r="5.85"/><circle cx="1001.2" cy="86.6" r="5.85"/><circle cx="1014.5" cy="89.5" r="5.85"/></g>
<g fill="#008000" stroke="none">
<path d="M981.5 21.4 L981.7 24.34 L982 27.29 L982.3 30.23 L982.7 33.18 L983.2 36.12 L984 39.07 L985.2 43.49 L987.4 50.85 L990.3 58.21 L998 65.57 L1007 72.94 L1015.8 80.3 L1023.8 87.66 L1032.8 95.03 L1053.4 109.75 L1070.5 124.47 L1082.6 139.2 L1093.4 153.93 L1106.7 168.65 L1140.6 205.46 L1156.7 242.28 L1199.6 315.9 L1226.8 389.52 L1249.7 463.15 L1270.5 536.77 L1292.7 610.4" stroke="#008000" stroke-width="2.5" fill="none" stroke-linejoin="round"/>
<circle cx="981.5" cy="21.4" r="5.85"/>
<circle cx="981.7" cy="24.34" r="5.85"/>
<circle cx="982" cy="27.29" r="5.85"/>
<circle cx="982.3" cy="30.23" r="5.85"/>
<circle cx="982.7" cy="33.18" r="5.85"/>
<circle cx="983.2" cy="36.12" r="5.85"/>
<circle cx="984" cy="39.07" r="5.85"/>
<circle cx="985.2" cy="43.49" r="5.85"/>
<circle cx="987.4" cy="50.85" r="5.85"/>
<circle cx="990.3" cy="58.21" r="5.85"/>
<circle cx="998" cy="65.57" r="5.85"/>
<circle cx="1007" cy="72.94" r="5.85"/>
<circle cx="1015.8" cy="80.3" r="5.85"/>
<circle cx="1023.8" cy="87.66" r="5.85"/>
<circle cx="1032.8" cy="95.03" r="5.85"/>
<circle cx="1053.4" cy="109.75" r="5.85"/>
<circle cx="1070.5" cy="124.47" r="5.85"/>
<circle cx="1082.6" cy="139.2" r="5.85"/>
<circle cx="1093.4" cy="153.93" r="5.85"/>
<circle cx="1106.7" cy="168.65" r="5.85"/>
<circle cx="1140.6" cy="205.46" r="5.85"/>
<circle cx="1156.7" cy="242.28" r="5.85"/>
<circle cx="1199.6" cy="315.9" r="5.85"/>
<circle cx="1226.8" cy="389.52" r="5.85"/>
<circle cx="1249.7" cy="463.15" r="5.85"/>
<circle cx="1270.5" cy="536.77" r="5.85"/>
<circle cx="1292.7" cy="610.4" r="5.85"/>
</g>
<g fill="#ff0000" stroke="none">
<path d="M986.4 21.4 L986.7 24.34 L987.1 27.29 L987.6 30.23 L988.2 33.18 L988.9 36.12 L989.7 39.07 L990.8 43.49 L992.6 50.85 L994.8 58.21 L998.2 65.57 L1003.4 72.94 L1009 80.3 L1013.7 87.66 L1018 95.03 L1028 109.75 L1039.4 124.47 L1051.6 139.2 L1065.9 153.93 L1074.8 168.65 L1090.2 205.46 L1114.5 242.28 L1180.6 315.9 L1225.4 389.52 L1257.6 463.15 L1285.2 536.77 L1309.2 610.4" stroke="#ff0000" stroke-width="2.5" fill="none" stroke-linejoin="round"/>
<circle cx="986.4" cy="21.4" r="5.85"/>
<circle cx="986.7" cy="24.34" r="5.85"/>
<circle cx="987.1" cy="27.29" r="5.85"/>
<circle cx="987.6" cy="30.23" r="5.85"/>
<circle cx="988.2" cy="33.18" r="5.85"/>
<circle cx="988.9" cy="36.12" r="5.85"/>
<circle cx="989.7" cy="39.07" r="5.85"/>
<circle cx="990.8" cy="43.49" r="5.85"/>
<circle cx="992.6" cy="50.85" r="5.85"/>
<circle cx="994.8" cy="58.21" r="5.85"/>
<circle cx="998.2" cy="65.57" r="5.85"/>
<circle cx="1003.4" cy="72.94" r="5.85"/>
<circle cx="1009" cy="80.3" r="5.85"/>
<circle cx="1013.7" cy="87.66" r="5.85"/>
<circle cx="1018" cy="95.03" r="5.85"/>
<circle cx="1028" cy="109.75" r="5.85"/>
<circle cx="1039.4" cy="124.47" r="5.85"/>
<circle cx="1051.6" cy="139.2" r="5.85"/>
<circle cx="1065.9" cy="153.93" r="5.85"/>
<circle cx="1074.8" cy="168.65" r="5.85"/>
<circle cx="1090.2" cy="205.46" r="5.85"/>
<circle cx="1114.5" cy="242.28" r="5.85"/>
<circle cx="1180.6" cy="315.9" r="5.85"/>
<circle cx="1225.4" cy="389.52" r="5.85"/>
<circle cx="1257.6" cy="463.15" r="5.85"/>
<circle cx="1285.2" cy="536.77" r="5.85"/>
<circle cx="1309.2" cy="610.4" r="5.85"/>
</g>
<g fill="#ff00ff" stroke="none">
<path d="M1001.7 22.12 L1002.05 23.67 L1002.4 25.3 L1002.75 27.02 L1003.1 28.88 L1003.45 30.88 L1003.8 33.08 L1004.15 35.49 L1004.5 38.19 L1004.85 41.23 L1005.2 44.68 L1005.8 48.64 L1007 53.21 L1008 58.52 L1009 64.75 L1009.9 72.1 L1013.4 80.8 L1020.4 91.15 L1028.7 103.51 L1037.4 118.31 L1047.7 136.03 L1060.6 157.34 L1078.5 182.98 L1102.5 213.81 L1133.4 250.89 L1174.3 295.48 L1214.4 349 L1249.5 413.14 L1278.4 489.85 L1308.4 581.26" stroke="#ff00ff" stroke-width="2.5" fill="none" stroke-linejoin="round"/>
<circle cx="1001.7" cy="22.12" r="5.85"/>
<circle cx="1002.05" cy="23.67" r="5.85"/>
<circle cx="1002.4" cy="25.3" r="5.85"/>
<circle cx="1002.75" cy="27.02" r="5.85"/>
<circle cx="1003.1" cy="28.88" r="5.85"/>
<circle cx="1003.45" cy="30.88" r="5.85"/>
<circle cx="1003.8" cy="33.08" r="5.85"/>
<circle cx="1004.15" cy="35.49" r="5.85"/>
<circle cx="1004.5" cy="38.19" r="5.85"/>
<circle cx="1004.85" cy="41.23" r="5.85"/>
<circle cx="1005.2" cy="44.68" r="5.85"/>
<circle cx="1005.8" cy="48.64" r="5.85"/>
<circle cx="1007" cy="53.21" r="5.85"/>
<circle cx="1008" cy="58.52" r="5.85"/>
<circle cx="1009" cy="64.75" r="5.85"/>
<circle cx="1009.9" cy="72.1" r="5.85"/>
<circle cx="1013.4" cy="80.8" r="5.85"/>
<circle cx="1020.4" cy="91.15" r="5.85"/>
<circle cx="1028.7" cy="103.51" r="5.85"/>
<circle cx="1037.4" cy="118.31" r="5.85"/>
<circle cx="1047.7" cy="136.03" r="5.85"/>
<circle cx="1060.6" cy="157.34" r="5.85"/>
<circle cx="1078.5" cy="182.98" r="5.85"/>
<circle cx="1102.5" cy="213.81" r="5.85"/>
<circle cx="1133.4" cy="250.89" r="5.85"/>
<circle cx="1174.3" cy="295.48" r="5.85"/>
<circle cx="1214.4" cy="349" r="5.85"/>
<circle cx="1249.5" cy="413.14" r="5.85"/>
<circle cx="1278.4" cy="489.85" r="5.85"/>
<circle cx="1308.4" cy="581.26" r="5.85"/>
</g>
</g>
<rect x="953.5" y="21.5" width="384" height="589" fill="none" stroke="#000" stroke-width="1.33"/>
<path d="M958.5 610.5 v6.3 M1067.5 610.5 v6.3 M1176.5 610.5 v6.3 M1286.5 610.5 v6.3 M953.5 21.5 h-6.3 M953.5 95.5 h-6.3 M953.5 168.5 h-6.3 M953.5 242.5 h-6.3 M953.5 315.5 h-6.3 M953.5 389.5 h-6.3 M953.5 463.5 h-6.3 M953.5 536.5 h-6.3 M953.5 610.5 h-6.3" stroke="#000" stroke-width="1.33" fill="none"/>
<text x="930.1" y="640" style="font-size:22.7px;letter-spacing:-0.5px" xml:space="preserve">1022</text>
<text x="1038.6" y="640" style="font-size:22.7px;letter-spacing:-0.5px" xml:space="preserve">1024</text>
<text x="1147.6" y="640" style="font-size:22.7px;letter-spacing:-0.5px" xml:space="preserve">1026</text>
<text x="1257.6" y="640" style="font-size:22.7px;letter-spacing:-0.5px" xml:space="preserve">1028</text>
</g>
<g font-weight="bold" font-size="24.3" text-anchor="middle">
<text x="291.1" y="674.1">Temperature (<tspan dy="1.2" font-size="26">˚</tspan><tspan dy="-1.2">C)</tspan></text>
<text x="717.4" y="670.8">Salinity (psu)</text>
<text x="1144.8" y="671">Density</text>
<text transform="translate(29.6 316) rotate(-90)" font-size="24.6">Depth (m)</text>
</g>
<text x="333.2" y="696" font-style="italic" font-size="17.36" xml:space="preserve">Ocean Heat Content (kJ/cm^2) - Argo: 166.0262,  RTOFS: 144.4914,  ESPC: 91.2288,  CMEMS: 142.6459,</text>
<g font-weight="bold" font-size="25.95">
<text x="1453.2" y="41.2">Argo #4903555</text>
<text x="1453.2" y="71.17">ARGO: 2025-09-11T04:40Z</text>
<text x="1453.2" y="101.14">ESPC : 2025-09-11T06:00Z</text>
<text x="1453.2" y="131.11">RTOFS: 2025-09-11T00:00Z</text>
<text x="1453.2" y="161.08">CMEMS: 2025-09-11T06:00Z</text>
</g>
<g id="map">
<rect x="1521.0" y="199.0" width="294.3" height="233.2" fill="#97b6e1"/>
<rect x="1521.0" y="199.1" width="294.6" height="233.3" fill="none" stroke="#000" stroke-width="1.4"/>
<g clip-path="url(#cm)">
<path d="M1519 197 L1793.99 197 L1793.99 199.1 L1788.93 202.64 L1785.14 205.8 L1780.09 208.96 L1776.29 212.75 L1772.5 216.55 L1769.97 220.34 L1767.45 225.39 L1766.18 230.45 L1766.81 235.51 L1767.45 240.56 L1768.71 246.88 L1770.61 253.2 L1773.13 259.52 L1775.66 265.84 L1777.56 270.9 L1779.45 277.22 L1780.09 280 L1777.56 275.06 L1780.09 281.38 L1783.25 287.7 L1785.77 294.02 L1787.04 300.34 L1786.41 307.92 L1784.51 314.24 L1782.61 319.3 L1780.09 323.09 L1777.56 325.62 L1777.56 324.35 L1772.5 323.09 L1771.24 318.03 L1767.45 314.24 L1762.39 310.45 L1759.86 305.39 L1756.07 301.6 L1753.54 296.55 L1751.01 291.49 L1748.48 286.43 L1746.59 280.11 L1747.22 275.06 L1748.48 270 L1748.48 280 L1747.85 277.22 L1749.75 272.16 L1749.12 265.84 L1745.96 262.05 L1742.16 258.26 L1738.37 253.2 L1734.58 248.15 L1730.79 245.87 L1727 246.25 L1724.47 249.41 L1720.68 251.94 L1717.51 254.47 L1714.35 253.84 L1711.19 250.68 L1709.3 246.25 L1705.51 243.09 L1701.71 241.19 L1697.92 239.93 L1690.34 240.56 L1690 239.93 L1684.44 240.82 L1679.38 241.57 L1674.33 242.08 L1668.01 242.84 L1661.69 243.09 L1657.9 244.35 L1661.06 245.62 L1663.58 248.15 L1662.32 251.31 L1659.16 254.47 L1656.63 257 L1658.53 258.89 L1661.06 261.42 L1659.16 263.32 L1656 264.58 L1654.1 261.42 L1651.58 258.89 L1649.05 258.26 L1646.52 260.16 L1642.73 262.05 L1638.93 262.68 L1635.14 263.06 L1631.98 261.42 L1629.45 259.52 L1627.56 257 L1623.77 255.48 L1619.97 254.72 L1614.92 255.1 L1608.6 253.84 L1604.8 252.57 L1601.01 251.94 L1595.96 252.19 L1590.9 253.2 L1587.11 254.47 L1582.68 256.36 L1578.89 258.89 L1575.73 261.8 L1573.84 263.32 L1570.68 265.46 L1565.62 267.11 L1560.56 269.38 L1559.3 272.78 L1555.51 275.69 L1550.45 280.11 L1546.66 285.17 L1544.76 290.23 L1544.13 295.28 L1545.39 300.34 L1546.66 305.39 L1547.29 310.45 L1546.66 315.51 L1544.76 320.56 L1542.23 325.62 L1540.34 331.94 L1539.33 338.26 L1538.44 345.84 L1538.06 352.16 L1538.06 360 L1537.18 356.32 L1536.55 362.64 L1537.81 368.96 L1539.71 375.28 L1542.23 381.6 L1545.39 389.19 L1549.19 394.24 L1553.61 400.56 L1557.4 406.88 L1559.93 413.2 L1564.35 419.52 L1569.41 420.79 L1574.47 421.42 L1578.89 423.95 L1582.05 427.74 L1584.58 430.27 L1588.37 429 L1593.43 427.11 L1598.48 425.84 L1603.54 424.58 L1608.6 422.68 L1613.65 422.05 L1618.71 421.42 L1623.77 420.16 L1628.82 417.63 L1632.61 414.47 L1636.41 411.94 L1637.67 406.88 L1639.57 403.09 L1640.2 398.03 L1640.83 391.71 L1642.73 386.66 L1647.78 383.5 L1654.1 382.23 L1660.42 380.97 L1666.74 379.07 L1673.06 377.81 L1679.38 378.44 L1685.7 379.71 L1666.32 379.07 L1672.64 377.81 L1678.96 378.82 L1684.02 379.71 L1687.81 377.81 L1691.6 380.34 L1693.12 384.13 L1691.6 387.92 L1689.07 391.71 L1685.91 396.14 L1683.39 400.56 L1682.12 405.62 L1680.86 410.68 L1680.23 415.73 L1678.96 422.05 L1677.7 427.11 L1677.06 432.16 L1677.06 435.2 L1519 435.2 Z" fill="#d2b48c" stroke="none"/>
<path d="M1717.51 374.02 L1723.2 372.12 L1725.73 366.43 L1730.79 362.64 L1738.37 359.48 L1745.96 356.95 L1753.54 355.31 L1761.13 354.8 L1767.45 355.06 L1773.77 353.16 L1780.09 354.42 L1786.41 356.32 L1791.46 358.85 L1796.52 362.64 L1802.84 363.27 L1809.16 364.54 L1815.23 365.8 L1818.3 365.8 L1818.3 389.82 L1815.23 389.82 L1811.69 387.92 L1809.16 385.39 L1806.63 380.97 L1802.84 378.44 L1796.52 378.44 L1790.2 377.18 L1785.14 374.65 L1780.09 372.12 L1773.77 370.86 L1767.45 370.23 L1762.39 369.59 L1759.86 367.7 L1763.65 365.8 L1764.29 363.27 L1759.86 362.01 L1753.54 362.01 L1748.48 362.64 L1743.43 365.8 L1738.37 368.96 L1733.32 370.86 L1728.26 372.75 L1724.47 375.28 L1717.51 374.02 Z" fill="#d2b48c" stroke="none"/>
<path d="M1525.17 198.85 L1530.23 202.01 L1539.07 208.96 L1544.13 217.18 L1549.19 225.39 L1554.24 236.77 L1560.56 241.83 L1561.19 248.15 L1563.09 254.47 L1568.15 257 L1569.41 262.68 L1571.94 265.21" fill="none" stroke="#97b6e1" stroke-width="1.6" stroke-linejoin="round"/>
<path d="M1623.77 232.35 L1627.56 236.77 L1630.09 243.09 L1636.41 247.51 L1645.25 249.41 L1649.05 253.2 L1652.84 258.26 L1659.16 262.05" fill="none" stroke="#97b6e1" stroke-width="1.6" stroke-linejoin="round"/>
<path d="M1695.39 198.85 L1699.82 206.43 L1696.66 209.59 L1689.07 209.59 L1683.39 214.02 L1681.49 221.6 L1676.43 230.45 L1674.54 238.03" fill="none" stroke="#97b6e1" stroke-width="1.6" stroke-linejoin="round"/>
<path d="M1718.15 236.77 L1715.62 244.35 L1716.88 251.94" fill="none" stroke="#97b6e1" stroke-width="1.6" stroke-linejoin="round"/>
<path d="M1521.12 374.65 L1526.43 372.75 L1532.75 370.86 L1537.18 368.96" fill="none" stroke="#97b6e1" stroke-width="1.6" stroke-linejoin="round"/>
<path d="M1608.6 422.68 L1609.86 427.11 L1613.65 428.37 L1617.45 431.53" fill="none" stroke="#97b6e1" stroke-width="1.6" stroke-linejoin="round"/>
<path d="M1611.13 422.05 L1614.92 427.11 L1617.45 430.9" fill="none" stroke="#97b6e1" stroke-width="1.6" stroke-linejoin="round"/>
<path d="M1590.27 198.6 L1590.27 215.28 L1594.69 222.87 L1597.22 230.45 L1594.69 240.56 L1594.06 250.68" fill="none" stroke="#000" stroke-width="1.6" stroke-linejoin="round"/>
<path d="M1631.35 198.6 L1631.98 206.43 L1634.51 210.23 L1628.82 217.81 L1625.03 225.39 L1623.77 231.71 L1650.31 231.71 L1649.68 236.77 L1652.21 240.56 L1652.84 244.35" fill="none" stroke="#000" stroke-width="1.6" stroke-linejoin="round"/>
<path d="M1669.9 198.6 L1668.64 215.28 L1669.52 240.56" fill="none" stroke="#000" stroke-width="1.6" stroke-linejoin="round"/>
<path d="M1714.1 198.6 L1716.25 203.9 L1718.15 210.86 L1714.99 217.81 L1716.25 226.66 L1717.51 232.98 L1718.78 236.14 L1756.07 238.67 L1756.7 241.83 L1758.6 238.03 L1759.86 234.87 L1765.55 236.14" fill="none" stroke="#000" stroke-width="1.6" stroke-linejoin="round"/>
<path d="M1683.01 240.56 L1682.75 236.77 L1680.86 233.61 L1680.23 231.71 L1715.62 231.46" fill="none" stroke="#000" stroke-width="1.6" stroke-linejoin="round"/>
<path d="M1765.55 198.6 L1767.45 203.9 L1769.97 208.96 L1772.5 213.39 L1774.4 214.65" fill="none" stroke="#000" stroke-width="1.6" stroke-linejoin="round"/>
<path d="M1521.12 304.76 L1526.43 307.29 L1532.75 309.82 L1539.07 311.08 L1545.39 312.35" fill="none" stroke="#97b6e1" stroke-width="1.6"/>
<path d="M1521.12 304.76 L1526.43 307.29 L1532.75 309.82 L1539.07 311.08 L1545.39 312.35" fill="none" stroke="#000" stroke-width="1.6" stroke-dasharray="4 2"/>
<path d="M1793.99 199.1 L1788.93 202.64 L1785.14 205.8 L1780.09 208.96 L1776.29 212.75 L1772.5 216.55 L1769.97 220.34 L1767.45 225.39 L1766.18 230.45 L1766.81 235.51 L1767.45 240.56 L1768.71 246.88 L1770.61 253.2 L1773.13 259.52 L1775.66 265.84 L1777.56 270.9 L1779.45 277.22 L1780.09 280 L1777.56 275.06 L1780.09 281.38 L1783.25 287.7 L1785.77 294.02 L1787.04 300.34 L1786.41 307.92 L1784.51 314.24 L1782.61 319.3 L1780.09 323.09 L1777.56 325.62 L1777.56 324.35 L1772.5 323.09 L1771.24 318.03 L1767.45 314.24 L1762.39 310.45 L1759.86 305.39 L1756.07 301.6 L1753.54 296.55 L1751.01 291.49 L1748.48 286.43 L1746.59 280.11 L1747.22 275.06 L1748.48 270 L1748.48 280 L1747.85 277.22 L1749.75 272.16 L1749.12 265.84 L1745.96 262.05 L1742.16 258.26 L1738.37 253.2 L1734.58 248.15 L1730.79 245.87 L1727 246.25 L1724.47 249.41 L1720.68 251.94 L1717.51 254.47 L1714.35 253.84 L1711.19 250.68 L1709.3 246.25 L1705.51 243.09 L1701.71 241.19 L1697.92 239.93 L1690.34 240.56 L1690 239.93 L1684.44 240.82 L1679.38 241.57 L1674.33 242.08 L1668.01 242.84 L1661.69 243.09 L1657.9 244.35 L1661.06 245.62 L1663.58 248.15 L1662.32 251.31 L1659.16 254.47 L1656.63 257 L1658.53 258.89 L1661.06 261.42 L1659.16 263.32 L1656 264.58 L1654.1 261.42 L1651.58 258.89 L1649.05 258.26 L1646.52 260.16 L1642.73 262.05 L1638.93 262.68 L1635.14 263.06 L1631.98 261.42 L1629.45 259.52 L1627.56 257 L1623.77 255.48 L1619.97 254.72 L1614.92 255.1 L1608.6 253.84 L1604.8 252.57 L1601.01 251.94 L1595.96 252.19 L1590.9 253.2 L1587.11 254.47 L1582.68 256.36 L1578.89 258.89 L1575.73 261.8 L1573.84 263.32 L1570.68 265.46 L1565.62 267.11 L1560.56 269.38 L1559.3 272.78 L1555.51 275.69 L1550.45 280.11 L1546.66 285.17 L1544.76 290.23 L1544.13 295.28 L1545.39 300.34 L1546.66 305.39 L1547.29 310.45 L1546.66 315.51 L1544.76 320.56 L1542.23 325.62 L1540.34 331.94 L1539.33 338.26 L1538.44 345.84 L1538.06 352.16 L1538.06 360 L1537.18 356.32 L1536.55 362.64 L1537.81 368.96 L1539.71 375.28 L1542.23 381.6 L1545.39 389.19 L1549.19 394.24 L1553.61 400.56 L1557.4 406.88 L1559.93 413.2 L1564.35 419.52 L1569.41 420.79 L1574.47 421.42 L1578.89 423.95 L1582.05 427.74 L1584.58 430.27 L1588.37 429 L1593.43 427.11 L1598.48 425.84 L1603.54 424.58 L1608.6 422.68 L1613.65 422.05 L1618.71 421.42 L1623.77 420.16 L1628.82 417.63 L1632.61 414.47 L1636.41 411.94 L1637.67 406.88 L1639.57 403.09 L1640.2 398.03 L1640.83 391.71 L1642.73 386.66 L1647.78 383.5 L1654.1 382.23 L1660.42 380.97 L1666.74 379.07 L1673.06 377.81 L1679.38 378.44 L1685.7 379.71 L1666.32 379.07 L1672.64 377.81 L1678.96 378.82 L1684.02 379.71 L1687.81 377.81 L1691.6 380.34 L1693.12 384.13 L1691.6 387.92 L1689.07 391.71 L1685.91 396.14 L1683.39 400.56 L1682.12 405.62 L1680.86 410.68 L1680.23 415.73 L1678.96 422.05 L1677.7 427.11 L1677.06 432.16" fill="none" stroke="#000" stroke-width="2" stroke-linejoin="round"/>
<path d="M1777.56 325.62 L1773.77 328.4 L1767.45 330.93 L1761.13 333.2 L1756.7 333.2" fill="none" stroke="#000" stroke-width="2.2" stroke-linejoin="round" stroke-linecap="round"/>
<path d="M1717.51 374.02 L1723.2 372.12 L1725.73 366.43 L1730.79 362.64 L1738.37 359.48 L1745.96 356.95 L1753.54 355.31 L1761.13 354.8 L1767.45 355.06 L1773.77 353.16 L1780.09 354.42 L1786.41 356.32 L1791.46 358.85 L1796.52 362.64 L1802.84 363.27 L1809.16 364.54 L1815.23 365.8" fill="none" stroke="#000" stroke-width="1.8" stroke-linejoin="round"/>
<path d="M1717.51 374.02 L1724.47 375.28 L1728.26 372.75 L1733.32 370.86 L1738.37 368.96 L1743.43 365.8 L1748.48 362.64 L1753.54 362.01 L1759.86 362.01 L1764.29 363.27 L1763.65 365.8 L1759.86 367.7 L1762.39 369.59 L1767.45 370.23 L1773.77 370.86 L1780.09 372.12 L1785.14 374.65 L1790.2 377.18 L1796.52 378.44 L1802.84 378.44 L1806.63 380.97 L1809.16 385.39 L1811.69 387.92 L1815.23 389.82" fill="none" stroke="#000" stroke-width="1.6" stroke-linejoin="round"/>
<path d="M1575.73 255.73 L1577.63 252.57 L1580.16 251.94 L1580.79 254.47 L1578.26 257" fill="none" stroke="#000" stroke-width="2.6" stroke-linejoin="round" stroke-linecap="round"/>
<path d="M1553.61 270.27 L1556.77 268.37 L1559.93 269" fill="none" stroke="#000" stroke-width="2.6" stroke-linejoin="round" stroke-linecap="round"/>
<path d="M1545.39 278.48 L1549.19 276.59 L1553.61 272.8 L1560.56 269.38 L1566.88 267.11 L1571.94 265.21" fill="none" stroke="#000" stroke-width="2.4" stroke-linejoin="round" stroke-linecap="round"/>
<path d="M1546.66 277.22 L1550.45 274.06" fill="none" stroke="#000" stroke-width="3.4" stroke-linejoin="round" stroke-linecap="round"/>
<path d="M1590.9 252.57 L1592.8 249.41" fill="none" stroke="#000" stroke-width="2.6" stroke-linejoin="round" stroke-linecap="round"/>
<path d="M1564.35 270.63 L1559.3 273.16 L1554.24 275.69 L1550.45 278.85 L1547.29 282.64 L1545.39 286.43" fill="none" stroke="#000" stroke-width="3.2" stroke-linejoin="round" stroke-linecap="round"/>
<path d="M1542.87 281.38 L1547.92 277.58" fill="none" stroke="#000" stroke-width="3.0" stroke-linejoin="round" stroke-linecap="round"/>
<path d="M1538.44 290.23 L1541.6 288.96 L1543.12 295.28 L1541.6 297.18 L1543.12 301.6 L1544.76 306.66" fill="none" stroke="#000" stroke-width="4.2" stroke-linejoin="round" stroke-linecap="round"/>
<path d="M1541.6 283.9 L1544.13 285.8" fill="none" stroke="#000" stroke-width="3.2" stroke-linejoin="round" stroke-linecap="round"/>
<path d="M1615.55 253.2 L1618.71 251.94 L1621.87 252.57 L1623.77 254.47" fill="none" stroke="#000" stroke-width="3.2" stroke-linejoin="round" stroke-linecap="round"/>
<path d="M1627.56 255.73 L1629.45 258.26 L1631.98 260.79 L1635.77 262.68 L1640.2 261.8 L1643.99 260.16 L1646.52 257.63 L1644.62 255.73" fill="none" stroke="#000" stroke-width="3.4" stroke-linejoin="round" stroke-linecap="round"/>
<path d="M1637.67 260.16 L1641.46 259.52" fill="none" stroke="#000" stroke-width="3.0" stroke-linejoin="round" stroke-linecap="round"/>
<path d="M1650.31 246.88 L1654.1 245.62 L1657.9 246.25 L1661.69 249.41 L1662.32 251.94" fill="none" stroke="#000" stroke-width="3.6" stroke-linejoin="round" stroke-linecap="round"/>
<path d="M1651.58 249.41 L1655.37 250.68 L1654.1 254.47 L1656.63 255.73" fill="none" stroke="#000" stroke-width="4.0" stroke-linejoin="round" stroke-linecap="round"/>
<path d="M1649.68 253.2 L1652.84 257 L1656.63 260.16 L1659.16 262.68 L1656.63 264.58" fill="none" stroke="#000" stroke-width="2.4" stroke-linejoin="round" stroke-linecap="round"/>
<path d="M1656.63 255.73 L1660.42 253.2" fill="none" stroke="#000" stroke-width="2.2" stroke-linejoin="round" stroke-linecap="round"/>
<path d="M1655.37 263.95 L1658.53 264.58 L1660.68 262.05" fill="none" stroke="#000" stroke-width="2.0" stroke-linejoin="round" stroke-linecap="round"/>
<path d="M1649.05 253.84 L1654.1 258.26 L1659.16 262.3" stroke="#97b6e1" stroke-width="1.9" fill="none" stroke-linecap="round"/>
<path d="M1656.38 254.72 L1659.16 250.68 L1661.43 247.14" stroke="#97b6e1" stroke-width="1.5" fill="none" stroke-linecap="round"/>
<path d="M1640.83 244.35 L1643.99 241.83 L1647.78 243.09 L1649.05 245.62 L1645.25 247.14 L1642.09 246.63 Z" fill="#97b6e1" stroke="#000" stroke-width="1.5" stroke-linejoin="round"/>
<path d="M1655.37 242.84 L1661.69 241.57 L1668.01 242.46 L1674.33 241.57 L1680.65 241.19 L1690 239.55" fill="none" stroke="#000" stroke-width="2.6" stroke-linejoin="round" stroke-linecap="round"/>
<path d="M1674.33 238.03 L1674.58 241.83" fill="none" stroke="#000" stroke-width="2.8" stroke-linejoin="round" stroke-linecap="round"/>
<path d="M1660 241.57 L1667.58 243.72 L1673.9 242.84 L1682.75 241.57 L1689.07 240.31" fill="none" stroke="#000" stroke-width="2.8" stroke-linejoin="round" stroke-linecap="round"/>
<path d="M1674.54 238.03 L1674.92 242.46" fill="none" stroke="#000" stroke-width="2.8" stroke-linejoin="round" stroke-linecap="round"/>
<path d="M1685.91 238.67 L1688.44 239.55" fill="none" stroke="#000" stroke-width="2.6" stroke-linejoin="round" stroke-linecap="round"/>
<path d="M1691.6 240.56 L1697.92 239.93 L1702.35 241.19 L1706.14 243.34 L1709.55 246.63 L1711.19 250.68 L1714.35 253.84 L1717.51 254.72" fill="none" stroke="#000" stroke-width="2.8" stroke-linejoin="round" stroke-linecap="round"/>
<path d="M1727 246.25 L1730.79 245.62 L1734.83 248.15 L1738.62 253.2 L1742.42 258.51 L1746.21 262.3 L1749.12 265.84 L1750 272.16 L1748.11 277.22" fill="none" stroke="#000" stroke-width="2.6" stroke-linejoin="round" stroke-linecap="round"/>
<path d="M1743.43 262.05 L1748.48 263.95" fill="none" stroke="#000" stroke-width="3.0" stroke-linejoin="round" stroke-linecap="round"/>
<path d="M1791.46 200.74 L1786.41 204.54 L1781.35 207.7 L1776.93 211.49 L1773.77 215.28 L1770.61 219.71 L1768.46 224.13 L1766.43 229.19 L1766.81 233.61" fill="none" stroke="#000" stroke-width="4.0" stroke-linejoin="round" stroke-linecap="round"/>
<path d="M1774.4 208.96 L1775.66 213.39" fill="none" stroke="#000" stroke-width="3.0" stroke-linejoin="round" stroke-linecap="round"/>
<path d="M1787.67 202.01 L1783.25 205.17" fill="none" stroke="#000" stroke-width="4.6" stroke-linejoin="round" stroke-linecap="round"/>
<path d="M1767.45 236.77 L1768.46 246.88 L1770.61 253.2" fill="none" stroke="#000" stroke-width="2.0" stroke-linejoin="round" stroke-linecap="round"/>
<path d="M1775.66 265.84 L1777.81 270.9 L1779.71 277.22 L1780.09 280" fill="none" stroke="#000" stroke-width="3.4" stroke-linejoin="round" stroke-linecap="round"/>
<path d="M1775.66 270 L1777.81 275.06 L1780.34 281.38 L1783.5 287.7 L1786.03 294.02 L1787.29 300.34 L1786.66 307.92 L1784.89 314.24" fill="none" stroke="#000" stroke-width="2.6" stroke-linejoin="round" stroke-linecap="round"/>
<path d="M1775.66 270 L1778.19 273.16" fill="none" stroke="#000" stroke-width="4.0" stroke-linejoin="round" stroke-linecap="round"/>
<path d="M1748.48 270 L1747.22 275.06 L1746.84 280.74" fill="none" stroke="#000" stroke-width="2.2" stroke-linejoin="round" stroke-linecap="round"/>
<path d="M1748.23 277.84 L1751.27 280.11 L1752.28 282.64 L1750.38 284.92 L1748.74 286.43" fill="none" stroke="#000" stroke-width="6.0" stroke-linejoin="round" stroke-linecap="round"/>
<path d="M1750 282.01 L1750.51 283.9" fill="none" stroke="#000" stroke-width="7.0" stroke-linejoin="round" stroke-linecap="round"/>
<path d="M1749.12 287.06 L1751.64 291.49 L1754.17 295.91" fill="none" stroke="#000" stroke-width="3.8" stroke-linejoin="round" stroke-linecap="round"/>
<path d="M1754.8 296.8 L1757.96 298.06 L1759.86 300.97 L1757.96 303.12 L1761.13 300.97" fill="none" stroke="#000" stroke-width="4.8" stroke-linejoin="round" stroke-linecap="round"/>
<path d="M1759.86 305.39 L1762.64 310.45 L1767.45 314.24 L1771.24 318.03" fill="none" stroke="#000" stroke-width="2.8" stroke-linejoin="round" stroke-linecap="round"/>
<path d="M1771.24 318.67 L1773.13 323.09 L1777.56 324.61 L1781.35 323.09" fill="none" stroke="#000" stroke-width="4.6" stroke-linejoin="round" stroke-linecap="round"/>
<path d="M1773.77 324.35 L1778.82 325.62" fill="none" stroke="#000" stroke-width="4.2" stroke-linejoin="round" stroke-linecap="round"/>
<path d="M1777.56 325.87 L1774.4 328.4 L1769.97 330.42" fill="none" stroke="#000" stroke-width="2.4" stroke-linejoin="round" stroke-linecap="round"/>
<path d="M1757.33 333.2 L1761.13 332.57 L1764.92 331.31 L1768.71 330.42" fill="none" stroke="#000" stroke-width="3.6" stroke-linejoin="round" stroke-linecap="round"/>
<path d="M1775.66 293.01 L1778.82 296.29 L1776.04 300.59 L1772.25 296.8 Z" fill="#b4b4b4" stroke="none" stroke-width="0" stroke-linejoin="round"/>
<circle cx="1746.59" cy="332.32" r="0.9" fill="#555"/>
<path d="M1800.94 300.34 L1805.37 302.23 L1809.79 300.97 L1815.23 299.71" fill="none" stroke="#000" stroke-width="3.2" stroke-linejoin="round" stroke-linecap="round"/>
<path d="M1806 298.44 L1807.9 300.34" fill="none" stroke="#000" stroke-width="3.0" stroke-linejoin="round" stroke-linecap="round"/>
<path d="M1809.16 291.49 L1812.95 293.39 L1813.58 295.91" fill="none" stroke="#000" stroke-width="2.4" stroke-linejoin="round" stroke-linecap="round"/>
<path d="M1797.15 314.24 L1796.9 318.03" fill="none" stroke="#000" stroke-width="2.6" stroke-linejoin="round" stroke-linecap="round"/>
<path d="M1797.78 318.67 L1799.05 323.09" fill="none" stroke="#333" stroke-width="1.6" stroke-linejoin="round" stroke-linecap="round"/>
<path d="M1799.68 310.7 L1803.47 311.71" fill="none" stroke="#556" stroke-width="1.0" stroke-linejoin="round" stroke-linecap="round"/>
<path d="M1815.23 323.09 L1812.95 325.62 L1811.69 329.41 L1807.9 331.94 L1811.69 335.1 L1815.23 338.89 Z" fill="#d2b48c" stroke="#000" stroke-width="2.2" stroke-linejoin="round"/>
<path d="M1812.32 322.46 L1813.58 325.62" fill="none" stroke="#000" stroke-width="3.0" stroke-linejoin="round" stroke-linecap="round"/>
<path d="M1780.09 342.68 L1784.51 341.8" fill="none" stroke="#000" stroke-width="2.0" stroke-linejoin="round" stroke-linecap="round"/>
<path d="M1788.3 340.79 L1790.83 345.21 L1793.99 349.64" fill="none" stroke="#000" stroke-width="2.0" stroke-linejoin="round" stroke-linecap="round"/>
<circle cx="1781.35" cy="346.48" r="0.8" fill="#334"/>
<path d="M1543.12 319.3 L1540.97 319.93 L1538.06 321.83 L1537.18 326.88 L1536.29 334.47 L1537.18 340.79 L1538.44 345.84 L1539.33 338.26 L1540.34 331.94 L1542.23 325.62 L1544.76 320.56 Z" fill="#4a5f80" stroke="#000" stroke-width="1.6" stroke-linejoin="round"/>
<path d="M1536.55 362.01 L1537.18 363.9" fill="none" stroke="#000" stroke-width="3.0" stroke-linejoin="round" stroke-linecap="round"/>
<path d="M1539.07 374.02 L1540.97 378.44 L1543.12 380.97 L1542.23 377.18" fill="none" stroke="#000" stroke-width="3.4" stroke-linejoin="round" stroke-linecap="round"/>
<circle cx="1546.03" cy="379.71" r="0.7" fill="#667"/>
<path d="M1619.34 422.68 L1623.77 420.79 L1628.19 420.79 L1628.82 422.68 L1625.66 424.83 L1621.24 425.21 Z" fill="#97b6e1" stroke="#000" stroke-width="1.8" stroke-linejoin="round"/>
<path d="M1601.01 425.84 L1604.17 425.21" fill="none" stroke="#000" stroke-width="2.6" stroke-linejoin="round" stroke-linecap="round"/>
<circle cx="1627.31" cy="370.23" r="0.8" fill="#445"/>
<circle cx="1650.31" cy="364.16" r="0.8" fill="#445"/>
<circle cx="1651.58" cy="366.43" r="0.8" fill="#445"/>
<circle cx="1614.92" cy="388.17" r="0.8" fill="#445"/>
<circle cx="1619.09" cy="399.3" r="0.8" fill="#445"/>
<circle cx="1684.02" cy="422.05" r="0.9" fill="#445"/>
<path d="M1681.91 380.34 L1685.7 379.07 L1689.5 379.71" fill="none" stroke="#000" stroke-width="3.4" stroke-linejoin="round" stroke-linecap="round"/>
<path d="M1684.02 379.07 L1688.06 377.56 L1691.35 380.08" fill="none" stroke="#000" stroke-width="2.6" stroke-linejoin="round" stroke-linecap="round"/>
<path d="M1683.39 400.56 L1681.74 405.62 L1678.96 408.15 L1680.86 411.94 L1679.97 415.73" fill="none" stroke="#000" stroke-width="3.4" stroke-linejoin="round" stroke-linecap="round"/>
<path d="M1680.23 415.73 L1678.96 422.05 L1677.7 427.11" fill="none" stroke="#000" stroke-width="2.4" stroke-linejoin="round" stroke-linecap="round"/>
<path d="M1688.44 394.87 L1691.6 393.23 L1693.5 394.24 L1692.61 396.77 L1689.71 398.67 L1688.06 397.4 Z" fill="#000" stroke="#000" stroke-width="0.5" stroke-linejoin="round"/>
<path d="M1666.32 427.11 L1669.48 424.58 L1672.64 425.21 L1672.01 420.79 L1674.54 419.52" fill="none" stroke="#000" stroke-width="3.6" stroke-linejoin="round" stroke-linecap="round"/>
<path d="M1672.64 425.84 L1675.8 428.37 L1674.54 431.53" fill="none" stroke="#000" stroke-width="3.6" stroke-linejoin="round" stroke-linecap="round"/>
<path d="M1667.58 425.84 L1668.85 427.74" fill="none" stroke="#000" stroke-width="2.5" stroke-linejoin="round" stroke-linecap="round"/>
<path d="M1771.24 353.79 L1774.4 352.78 L1780.09 354.42 L1786.41 356.32 L1791.46 359.1 L1796.52 362.64 L1802.84 363.65 L1809.16 364.92 L1815.23 366.43" fill="none" stroke="#000" stroke-width="4.6" stroke-linejoin="round" stroke-linecap="round"/>
<path d="M1793.99 362.01 L1799.05 365.17 L1805.37 365.8 L1811.69 367.7 L1815.23 368.96" fill="none" stroke="#000" stroke-width="3.2" stroke-linejoin="round" stroke-linecap="round"/>
<path d="M1717.51 374.02 L1723.2 372.5 L1725.1 374.65" fill="none" stroke="#000" stroke-width="2.8" stroke-linejoin="round" stroke-linecap="round"/>
<path d="M1724.47 368.96 L1726.36 365.8" fill="none" stroke="#000" stroke-width="2.2" stroke-linejoin="round" stroke-linecap="round"/>
<path d="M1748.48 362.64 L1753.54 362.01 L1759.86 362.26 L1763.91 363.65" fill="none" stroke="#000" stroke-width="2.4" stroke-linejoin="round" stroke-linecap="round"/>
<path d="M1758.6 367.7 L1762.39 369.59 L1767.45 370.48 L1771.24 370.86" fill="none" stroke="#000" stroke-width="3.2" stroke-linejoin="round" stroke-linecap="round"/>
<path d="M1735.84 372.75 L1740.27 373.13" fill="none" stroke="#000" stroke-width="1.6" stroke-linejoin="round" stroke-linecap="round"/>
<path d="M1747.22 368.33 L1748.48 370.86 L1745.96 373.39" fill="none" stroke="#000" stroke-width="3.0" stroke-linejoin="round" stroke-linecap="round"/>
<path d="M1743.43 375.91 L1747.22 374.65 L1750 377.18 L1749.12 380.08 L1745.32 380.97 L1742.42 378.82 Z" fill="#d2b48c" stroke="#000" stroke-width="2.2" stroke-linejoin="round"/>
<path d="M1750.38 379.71 L1756.07 378.82 L1761.13 377.81 L1767.45 376.8" fill="none" stroke="#000" stroke-width="2.2" stroke-linejoin="round" stroke-linecap="round"/>
<path d="M1770.61 377.56 L1771.87 377.56" fill="none" stroke="#333" stroke-width="1.6" stroke-linejoin="round" stroke-linecap="round"/>
<path d="M1753.54 365.17 L1756.07 365.8" fill="none" stroke="#334" stroke-width="1.2" stroke-linejoin="round" stroke-linecap="round"/>
<path d="M1794.62 384.76 L1799.05 387.92 L1805.37 391.08 L1810.42 393.61 L1815.23 394.5" fill="none" stroke="#000" stroke-width="3.2" stroke-linejoin="round" stroke-linecap="round"/>
<path d="M1801.58 386.03 L1805.37 386.66" fill="none" stroke="#223" stroke-width="1.8" stroke-linejoin="round" stroke-linecap="round"/>
<path d="M1804.1 379.07 L1806.63 381.6 L1809.16 385.39 L1811.69 387.92 L1815.23 390.2" fill="none" stroke="#000" stroke-width="2.6" stroke-linejoin="round" stroke-linecap="round"/>
<path d="M1767.45 411.94 L1771.87 412.44" fill="none" stroke="#000" stroke-width="3.0" stroke-linejoin="round" stroke-linecap="round"/>
<path d="M1785.77 406.88 L1790.83 405.87" fill="none" stroke="#000" stroke-width="2.4" stroke-linejoin="round" stroke-linecap="round"/>
<path d="M1809.79 427.11 L1811.69 424.83 L1816.11 424.58 L1816.11 429.64 L1812.32 429.38 Z" fill="#d2b48c" stroke="#000" stroke-width="2.0" stroke-linejoin="round"/>
<circle cx="1793.99" cy="350" r="1.0" fill="#000"/>
<path d="M1537.5 288 L1541.5 282.5 L1547 277.5 L1553 273 L1560 269.6 L1567 267 L1572 264.6" fill="none" stroke="#000" stroke-width="4.0" stroke-linejoin="round" stroke-linecap="round"/>
<path d="M1554 270 L1559 267.5 L1562 268.5" fill="none" stroke="#000" stroke-width="3.2" stroke-linejoin="round" stroke-linecap="round"/>
<circle cx="1578.8" cy="254.2" r="2.7" fill="#000"/>
<path d="M1576.5 256.5 L1581 252" fill="none" stroke="#000" stroke-width="3.6" stroke-linejoin="round" stroke-linecap="round"/>
<path d="M1592.5 252.5 L1594.2 248" fill="none" stroke="#000" stroke-width="3.4" stroke-linejoin="round" stroke-linecap="round"/>
<path d="M1574 263 L1577.5 259.5" fill="none" stroke="#000" stroke-width="3.0" stroke-linejoin="round" stroke-linecap="round"/>
</g>
<path d="M1521 432.2 v9.2 M1521 199.0 v-8.3 M1563.04 432.2 v9.2 M1563.04 199.0 v-8.3 M1605.09 432.2 v9.2 M1605.09 199.0 v-8.3 M1647.13 432.2 v9.2 M1647.13 199.0 v-8.3 M1689.17 432.2 v9.2 M1689.17 199.0 v-8.3 M1731.21 432.2 v9.2 M1731.21 199.0 v-8.3 M1773.26 432.2 v9.2 M1773.26 199.0 v-8.3 M1815.3 432.2 v9.2 M1815.3 199.0 v-8.3 M1521.0 432.4 h-8.6 M1815.3 432.4 h9.5 M1521.0 387.4 h-8.6 M1815.3 387.4 h9.5 M1521.0 342.4 h-8.6 M1815.3 342.4 h9.5 M1521.0 296.4 h-8.6 M1815.3 296.4 h9.5 M1521.0 248.4 h-8.6 M1815.3 248.4 h9.5 M1521.0 199.5 h-8.6 M1815.3 199.5 h9.5" stroke="#000" stroke-width="3.2" fill="none"/>
<path d="M1535.01 432.2 v3 M1535.01 199.0 v-3 M1549.03 432.2 v3 M1549.03 199.0 v-3 M1577.06 432.2 v3 M1577.06 199.0 v-3 M1591.07 432.2 v3 M1591.07 199.0 v-3 M1619.1 432.2 v3 M1619.1 199.0 v-3 M1633.11 432.2 v3 M1633.11 199.0 v-3 M1661.14 432.2 v3 M1661.14 199.0 v-3 M1675.16 432.2 v3 M1675.16 199.0 v-3 M1703.19 432.2 v3 M1703.19 199.0 v-3 M1717.2 432.2 v3 M1717.2 199.0 v-3 M1745.23 432.2 v3 M1745.23 199.0 v-3 M1759.24 432.2 v3 M1759.24 199.0 v-3 M1787.27 432.2 v3 M1787.27 199.0 v-3 M1801.29 432.2 v3 M1801.29 199.0 v-3 M1521.0 417 h-3 M1815.3 417 h3 M1521.0 401.9 h-3 M1815.3 401.9 h3 M1521.0 372.2 h-3 M1815.3 372.2 h3 M1521.0 357.1 h-3 M1815.3 357.1 h3 M1521.0 326.9 h-3 M1815.3 326.9 h3 M1521.0 311.2 h-3 M1815.3 311.2 h3 M1521.0 279.9 h-3 M1815.3 279.9 h3 M1521.0 264 h-3 M1815.3 264 h3 M1521.0 231.8 h-3 M1815.3 231.8 h3 M1521.0 215.8 h-3 M1815.3 215.8 h3" stroke="#000" stroke-width="1.5" fill="none"/>
<text x="1471.3" y="437.6" style="font-size:13.5px;letter-spacing:0.1px" xml:space="preserve">18°N</text>
<text x="1471.3" y="392.6" style="font-size:13.5px;letter-spacing:0.1px" xml:space="preserve">21°N</text>
<text x="1471.3" y="347.6" style="font-size:13.5px;letter-spacing:0.1px" xml:space="preserve">24°N</text>
<text x="1471.3" y="301.6" style="font-size:13.5px;letter-spacing:0.1px" xml:space="preserve">27°N</text>
<text x="1471.3" y="253.6" style="font-size:13.5px;letter-spacing:0.1px" xml:space="preserve">30°N</text>
<text x="1471.3" y="204.7" style="font-size:13.5px;letter-spacing:0.1px" xml:space="preserve">33°N</text>
<text x="1501.8" y="457.8" style="font-size:13.5px;letter-spacing:0.1px" xml:space="preserve">99°W</text>
<text x="1543.84" y="457.8" style="font-size:13.5px;letter-spacing:0.1px" xml:space="preserve">96°W</text>
<text x="1585.89" y="457.8" style="font-size:13.5px;letter-spacing:0.1px" xml:space="preserve">93°W</text>
<text x="1627.93" y="457.8" style="font-size:13.5px;letter-spacing:0.1px" xml:space="preserve">90°W</text>
<text x="1669.97" y="457.8" style="font-size:13.5px;letter-spacing:0.1px" xml:space="preserve">87°W</text>
<text x="1712.01" y="457.8" style="font-size:13.5px;letter-spacing:0.1px" xml:space="preserve">84°W</text>
<text x="1754.06" y="457.8" style="font-size:13.5px;letter-spacing:0.1px" xml:space="preserve">81°W</text>
<text x="1796.1" y="457.8" style="font-size:13.5px;letter-spacing:0.1px" xml:space="preserve">78°W</text>
<circle cx="1672.4" cy="305.4" r="6.3" fill="#0000ff"/>
</g>
<g id="legend">
<rect x="1509" y="488.2" width="318.5" height="126.5" rx="3.3" fill="#fff" fill-opacity="0.8" stroke="#ccc" stroke-width="1.3"/>
<path d="M1517.4 505.5 H1560.6" stroke="#0000ff" stroke-width="2.5"/>
<circle cx="1539" cy="505.5" r="5.85" fill="#0000ff"/>
<text x="1576" y="512.6" style="font-size:21.3px;letter-spacing:-0.22px">4903555 [-88.2, 26.41]</text>
<path d="M1517.4 535.6 H1560.6" stroke="#008000" stroke-width="2.5"/>
<circle cx="1539" cy="535.6" r="5.85" fill="#008000"/>
<text x="1576" y="542.7" style="font-size:21.3px;letter-spacing:-0.22px">ESPC [-88.16, 26.4]</text>
<path d="M1517.4 565.7 H1560.6" stroke="#ff0000" stroke-width="2.5"/>
<circle cx="1539" cy="565.7" r="5.85" fill="#ff0000"/>
<text x="1576" y="572.8" style="font-size:21.3px;letter-spacing:-0.22px">RTOFS [-88.16, 26.38]</text>
<path d="M1517.4 596.1 H1560.6" stroke="#ff00ff" stroke-width="2.5"/>
<circle cx="1539" cy="596.1" r="5.85" fill="#ff00ff"/>
<text x="1576" y="603.2" style="font-size:21.3px;letter-spacing:-0.22px">CMEMS [-88.17, 26.42]</text>
</g>
</svg>
</body></html>
